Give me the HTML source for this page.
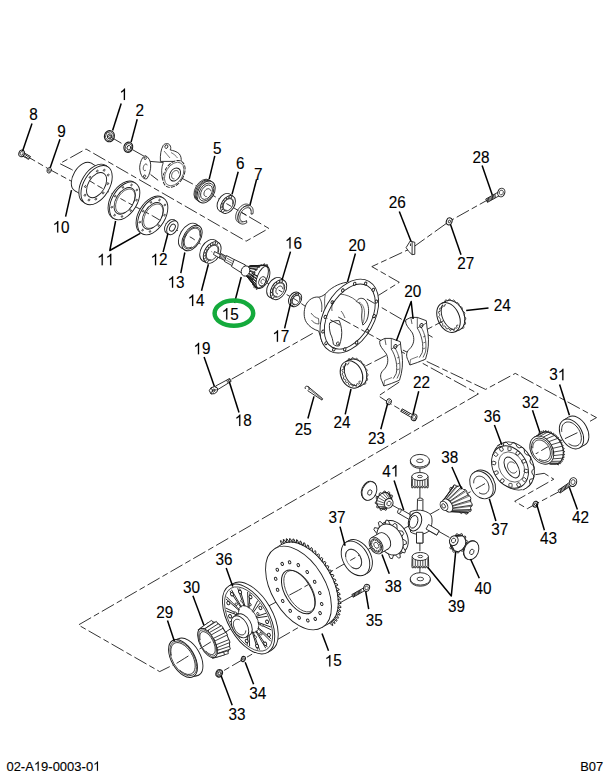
<!DOCTYPE html>
<html><head><meta charset="utf-8"><style>
html,body{margin:0;padding:0;background:#fff;}
svg{display:block;}
text{font-family:"Liberation Sans",sans-serif;fill:#000;}
</style></head><body>
<svg width="610" height="777" viewBox="0 0 610 777" stroke-linecap="butt" stroke-linejoin="round">
<rect width="610" height="777" fill="#fff"/>
<polyline points="23,154 48.2,168.7 84,188" fill="none" stroke="#1c1c1c" stroke-width="0.9" stroke-dasharray="14 3.2 6 3.2"/>
<polyline points="109.4,136.2 128.3,147.3 145.5,157" fill="none" stroke="#1c1c1c" stroke-width="0.9" stroke-dasharray="14 3.2 6 3.2"/>
<polyline points="150.7,174 157.5,179.2" fill="none" stroke="#1c1c1c" stroke-width="0.9" stroke-dasharray="14 3.2 6 3.2"/>
<polyline points="180.5,177.5 205,190.5 226.3,203.5 244.4,214.1 268.8,228.4 246.1,241.2 86,149 59.8,163.6 71.6,169.5 82,176" fill="none" stroke="#1c1c1c" stroke-width="0.9" stroke-dasharray="14 3.2 6 3.2"/>
<polyline points="96.6,185.1 124.7,200.9 152.7,215.9 172.4,227.7 192,238 212.2,252.1" fill="none" stroke="#1c1c1c" stroke-width="0.9" stroke-dasharray="14 3.2 6 3.2"/>
<polyline points="264,281 276.7,288.9 295.2,299.4 306.9,307.4" fill="none" stroke="#1c1c1c" stroke-width="0.9" stroke-dasharray="14 3.2 6 3.2"/>
<polyline points="231.6,379.2 314.2,332.5" fill="none" stroke="#1c1c1c" stroke-width="0.9" stroke-dasharray="14 3.2 6 3.2"/>
<polyline points="366.9,299 434.3,338.3" fill="none" stroke="#1c1c1c" stroke-width="0.9" stroke-dasharray="14 3.2 6 3.2"/>
<polyline points="338.2,317 478.4,393.9 78.4,625 159.7,671.6 175.4,663.8" fill="none" stroke="#1c1c1c" stroke-width="0.9" stroke-dasharray="14 3.2 6 3.2"/>
<polyline points="402.9,350.1 485.6,389.4 515.3,373.4 596.5,417.6 587.9,422.5" fill="none" stroke="#1c1c1c" stroke-width="0.9" stroke-dasharray="14 3.2 6 3.2"/>
<polyline points="447.5,318.6 425.2,330.4" fill="none" stroke="#1c1c1c" stroke-width="0.9" stroke-dasharray="14 3.2 6 3.2"/>
<polyline points="351,373.5 386,355.5" fill="none" stroke="#1c1c1c" stroke-width="0.9" stroke-dasharray="14 3.2 6 3.2"/>
<polyline points="492,197.5 449.2,221.4 412.5,247.7 371.8,266.6 399.3,282.3 378.4,295.4" fill="none" stroke="#1c1c1c" stroke-width="0.9" stroke-dasharray="14 3.2 6 3.2"/>
<polyline points="399.2,382.1 378.5,395.9 388.9,402.8 401.5,410.1" fill="none" stroke="#1c1c1c" stroke-width="0.9" stroke-dasharray="14 3.2 6 3.2"/>
<polyline points="578,432.4 547.3,447.1 513,467.2 481.5,485.6 453.1,501.5 419.9,519.9 383.4,539.8 355.4,557.5 298.4,590.3 248.5,616.6 213.8,640.1 184.3,658.5" fill="none" stroke="#1c1c1c" stroke-width="0.9" stroke-dasharray="14 3.2 6 3.2"/>
<polyline points="419.9,458 419.9,582" fill="none" stroke="#1c1c1c" stroke-width="0.9" stroke-dasharray="14 3.2 6 3.2"/>
<polyline points="368.3,491.6 472,550.2" fill="none" stroke="#1c1c1c" stroke-width="0.9" stroke-dasharray="14 3.2 6 3.2"/>
<polyline points="535.4,474.7 544.2,473.3 553.8,479.2 514.7,501.3 527.3,508.7 535.4,504.2 559,491.7" fill="none" stroke="#1c1c1c" stroke-width="0.9" stroke-dasharray="14 3.2 6 3.2"/>
<polyline points="352.5,595.9 336,605" fill="none" stroke="#1c1c1c" stroke-width="0.9" stroke-dasharray="14 3.2 6 3.2"/>
<polyline points="312.8,619.2 244.6,658.5 219.2,673.3" fill="none" stroke="#1c1c1c" stroke-width="0.9" stroke-dasharray="14 3.2 6 3.2"/>
<polygon points="20.8,154.9 28.7,159.4 30.3,156.4 22.4,151.9" fill="#fff" stroke="#1c1c1c" stroke-width="0.9"/>
<line x1="22.8" y1="156.1" x2="25.9" y2="153.9" stroke="#1c1c1c" stroke-width="0.95"/>
<line x1="24.4" y1="157" x2="27.5" y2="154.8" stroke="#1c1c1c" stroke-width="0.95"/>
<line x1="26" y1="157.9" x2="29.1" y2="155.7" stroke="#1c1c1c" stroke-width="0.95"/>
<line x1="27.6" y1="158.8" x2="30.6" y2="156.6" stroke="#1c1c1c" stroke-width="0.95"/>
<ellipse cx="21.6" cy="153.4" rx="2.7" ry="3.4" fill="#fff" stroke="#1c1c1c" stroke-width="1.0" transform="rotate(20 21.6 153.4)"/>
<ellipse cx="21.6" cy="153.4" rx="1.5" ry="1.9" fill="none" stroke="#1c1c1c" stroke-width="0.7" transform="rotate(20 21.6 153.4)"/>
<ellipse cx="49.2" cy="170.3" rx="2.1" ry="2.8" fill="#fff" stroke="#1c1c1c" stroke-width="0.9" transform="rotate(20 49.2 170.3)"/>
<ellipse cx="49.2" cy="170.3" rx="0.9" ry="1.2" fill="none" stroke="#1c1c1c" stroke-width="0.7" transform="rotate(20 49.2 170.3)"/>
<ellipse cx="82.9" cy="176.9" rx="9.6" ry="16" fill="#fff" stroke="#1c1c1c" stroke-width="0.9" transform="rotate(31 82.9 176.9)"/>
<polygon points="91.1,163.1 104.8,171.4 88.4,198.8 74.6,190.6" fill="#fff" stroke="none"/>
<line x1="91.1" y1="163.1" x2="104.8" y2="171.4" stroke="#1c1c1c" stroke-width="0.9"/>
<line x1="74.6" y1="190.6" x2="88.4" y2="198.8" stroke="#1c1c1c" stroke-width="0.9"/>
<ellipse cx="96.6" cy="185.1" rx="9.6" ry="16" fill="#fff" stroke="#1c1c1c" stroke-width="0.9" transform="rotate(31 96.6 185.1)"/>
<ellipse cx="94.5" cy="183.8" rx="12.9" ry="21.5" fill="#fff" stroke="#1c1c1c" stroke-width="0.9" transform="rotate(31 94.5 183.8)"/>
<polygon points="105.5,165.4 107.7,166.7 85.5,203.5 83.4,202.2" fill="#fff" stroke="none"/>
<line x1="105.5" y1="165.4" x2="107.7" y2="166.7" stroke="#1c1c1c" stroke-width="0.9"/>
<line x1="83.4" y1="202.2" x2="85.5" y2="203.5" stroke="#1c1c1c" stroke-width="0.9"/>
<ellipse cx="96.6" cy="185.1" rx="12.9" ry="21.5" fill="#fff" stroke="#1c1c1c" stroke-width="0.9" transform="rotate(31 96.6 185.1)"/>
<ellipse cx="96.6" cy="185.1" rx="8.3" ry="13.8" fill="none" stroke="#1c1c1c" stroke-width="0.9" transform="rotate(31 96.6 185.1)"/>
<ellipse cx="103.1" cy="192.9" rx="0.8" ry="1" fill="#fff" stroke="#1c1c1c" stroke-width="0.8" transform="rotate(31 103.1 192.9)"/>
<ellipse cx="95.9" cy="199.1" rx="0.8" ry="1" fill="#fff" stroke="#1c1c1c" stroke-width="0.8" transform="rotate(31 95.9 199.1)"/>
<ellipse cx="89" cy="200" rx="0.8" ry="1" fill="#fff" stroke="#1c1c1c" stroke-width="0.8" transform="rotate(31 89 200)"/>
<ellipse cx="85" cy="195.2" rx="0.8" ry="1" fill="#fff" stroke="#1c1c1c" stroke-width="0.8" transform="rotate(31 85 195.2)"/>
<ellipse cx="85.4" cy="186.5" rx="0.8" ry="1" fill="#fff" stroke="#1c1c1c" stroke-width="0.8" transform="rotate(31 85.4 186.5)"/>
<ellipse cx="90.1" cy="177.3" rx="0.8" ry="1" fill="#fff" stroke="#1c1c1c" stroke-width="0.8" transform="rotate(31 90.1 177.3)"/>
<ellipse cx="97.3" cy="171.1" rx="0.8" ry="1" fill="#fff" stroke="#1c1c1c" stroke-width="0.8" transform="rotate(31 97.3 171.1)"/>
<ellipse cx="104.2" cy="170.2" rx="0.8" ry="1" fill="#fff" stroke="#1c1c1c" stroke-width="0.8" transform="rotate(31 104.2 170.2)"/>
<ellipse cx="108.2" cy="175" rx="0.8" ry="1" fill="#fff" stroke="#1c1c1c" stroke-width="0.8" transform="rotate(31 108.2 175)"/>
<ellipse cx="107.8" cy="183.7" rx="0.8" ry="1" fill="#fff" stroke="#1c1c1c" stroke-width="0.8" transform="rotate(31 107.8 183.7)"/>
<ellipse cx="123.2" cy="200" rx="12.5" ry="20.8" fill="#fff" stroke="#1c1c1c" stroke-width="0.9" transform="rotate(31 123.2 200)"/>
<polygon points="133.9,182.1 135.4,183.1 114,218.7 112.4,217.8" fill="#fff" stroke="none"/>
<line x1="133.9" y1="182.1" x2="135.4" y2="183.1" stroke="#1c1c1c" stroke-width="0.9"/>
<line x1="112.4" y1="217.8" x2="114" y2="218.7" stroke="#1c1c1c" stroke-width="0.9"/>
<ellipse cx="124.7" cy="200.9" rx="12.5" ry="20.8" fill="#fff" stroke="#1c1c1c" stroke-width="0.9" transform="rotate(31 124.7 200.9)"/>
<ellipse cx="124.7" cy="200.9" rx="8.8" ry="14.6" fill="none" stroke="#1c1c1c" stroke-width="0.9" transform="rotate(31 124.7 200.9)"/>
<ellipse cx="130.7" cy="210.6" rx="0.7" ry="0.9" fill="#fff" stroke="#1c1c1c" stroke-width="0.8" transform="rotate(31 130.7 210.6)"/>
<ellipse cx="122" cy="216.5" rx="0.7" ry="0.9" fill="#fff" stroke="#1c1c1c" stroke-width="0.8" transform="rotate(31 122 216.5)"/>
<ellipse cx="114.6" cy="215.2" rx="0.7" ry="0.9" fill="#fff" stroke="#1c1c1c" stroke-width="0.8" transform="rotate(31 114.6 215.2)"/>
<ellipse cx="111.9" cy="207.2" rx="0.7" ry="0.9" fill="#fff" stroke="#1c1c1c" stroke-width="0.8" transform="rotate(31 111.9 207.2)"/>
<ellipse cx="115.2" cy="196.2" rx="0.7" ry="0.9" fill="#fff" stroke="#1c1c1c" stroke-width="0.8" transform="rotate(31 115.2 196.2)"/>
<ellipse cx="123" cy="187.4" rx="0.7" ry="0.9" fill="#fff" stroke="#1c1c1c" stroke-width="0.8" transform="rotate(31 123 187.4)"/>
<ellipse cx="131.5" cy="185" rx="0.7" ry="0.9" fill="#fff" stroke="#1c1c1c" stroke-width="0.8" transform="rotate(31 131.5 185)"/>
<ellipse cx="136.9" cy="190" rx="0.7" ry="0.9" fill="#fff" stroke="#1c1c1c" stroke-width="0.8" transform="rotate(31 136.9 190)"/>
<ellipse cx="136.6" cy="200.1" rx="0.7" ry="0.9" fill="#fff" stroke="#1c1c1c" stroke-width="0.8" transform="rotate(31 136.6 200.1)"/>
<polyline points="125.2,212.2 123.9,212.8 122.6,213.2 121.4,213.3 120.3,213.3 119.2,213 118.3,212.5 117.5,211.8 116.8,211 116.3,210 115.9,208.8 115.7,207.5 115.6,206 115.7,204.5 116,203 116.5,201.4 117.1,199.8 117.8,198.2 118.7,196.7 119.7,195.2 120.8,193.9 122,192.7 123.2,191.6 124.4,190.7 125.7,190 127,189.5 128.2,189.2 129.4,189.1 130.5,189.2 131.6,189.5 132.5,190 133.3,190.7 133.9,191.6 134.4,192.7 134.8,193.9 135,195.2 135,196.7 134.8,198.2 134.5,199.8 134,201.4 133.4,203" fill="none" stroke="#1c1c1c" stroke-width="0.7"/>
<ellipse cx="151.2" cy="215" rx="12.5" ry="20.8" fill="#fff" stroke="#1c1c1c" stroke-width="0.9" transform="rotate(31 151.2 215)"/>
<polygon points="161.9,197.1 163.4,198.1 142,233.7 140.4,232.8" fill="#fff" stroke="none"/>
<line x1="161.9" y1="197.1" x2="163.4" y2="198.1" stroke="#1c1c1c" stroke-width="0.9"/>
<line x1="140.4" y1="232.8" x2="142" y2="233.7" stroke="#1c1c1c" stroke-width="0.9"/>
<ellipse cx="152.7" cy="215.9" rx="12.5" ry="20.8" fill="#fff" stroke="#1c1c1c" stroke-width="0.9" transform="rotate(31 152.7 215.9)"/>
<ellipse cx="152.7" cy="215.9" rx="8.8" ry="14.6" fill="none" stroke="#1c1c1c" stroke-width="0.9" transform="rotate(31 152.7 215.9)"/>
<ellipse cx="158.7" cy="225.6" rx="0.7" ry="0.9" fill="#fff" stroke="#1c1c1c" stroke-width="0.8" transform="rotate(31 158.7 225.6)"/>
<ellipse cx="150" cy="231.5" rx="0.7" ry="0.9" fill="#fff" stroke="#1c1c1c" stroke-width="0.8" transform="rotate(31 150 231.5)"/>
<ellipse cx="142.6" cy="230.2" rx="0.7" ry="0.9" fill="#fff" stroke="#1c1c1c" stroke-width="0.8" transform="rotate(31 142.6 230.2)"/>
<ellipse cx="139.9" cy="222.2" rx="0.7" ry="0.9" fill="#fff" stroke="#1c1c1c" stroke-width="0.8" transform="rotate(31 139.9 222.2)"/>
<ellipse cx="143.2" cy="211.2" rx="0.7" ry="0.9" fill="#fff" stroke="#1c1c1c" stroke-width="0.8" transform="rotate(31 143.2 211.2)"/>
<ellipse cx="151" cy="202.4" rx="0.7" ry="0.9" fill="#fff" stroke="#1c1c1c" stroke-width="0.8" transform="rotate(31 151 202.4)"/>
<ellipse cx="159.5" cy="200" rx="0.7" ry="0.9" fill="#fff" stroke="#1c1c1c" stroke-width="0.8" transform="rotate(31 159.5 200)"/>
<ellipse cx="164.9" cy="205" rx="0.7" ry="0.9" fill="#fff" stroke="#1c1c1c" stroke-width="0.8" transform="rotate(31 164.9 205)"/>
<ellipse cx="164.6" cy="215.1" rx="0.7" ry="0.9" fill="#fff" stroke="#1c1c1c" stroke-width="0.8" transform="rotate(31 164.6 215.1)"/>
<polyline points="153.2,227.2 151.9,227.8 150.6,228.2 149.4,228.3 148.3,228.3 147.2,228 146.3,227.5 145.5,226.8 144.8,226 144.3,225 143.9,223.8 143.7,222.5 143.6,221 143.7,219.5 144,218 144.5,216.4 145.1,214.8 145.8,213.2 146.7,211.7 147.7,210.2 148.8,208.9 150,207.7 151.2,206.6 152.4,205.7 153.7,205 155,204.5 156.2,204.2 157.4,204.1 158.5,204.2 159.6,204.5 160.5,205 161.3,205.7 161.9,206.6 162.4,207.7 162.8,208.9 163,210.2 163,211.7 162.8,213.2 162.5,214.8 162,216.4 161.4,218" fill="none" stroke="#1c1c1c" stroke-width="0.7"/>
<ellipse cx="170.3" cy="226.4" rx="4.9" ry="7.6" fill="#fff" stroke="#1c1c1c" stroke-width="0.9" transform="rotate(31 170.3 226.4)"/>
<polygon points="174.2,219.9 176.3,221.2 168.5,234.2 166.3,232.9" fill="#fff" stroke="none"/>
<line x1="174.2" y1="219.9" x2="176.3" y2="221.2" stroke="#1c1c1c" stroke-width="0.9"/>
<line x1="166.3" y1="232.9" x2="168.5" y2="234.2" stroke="#1c1c1c" stroke-width="0.9"/>
<ellipse cx="172.4" cy="227.7" rx="4.9" ry="7.6" fill="#fff" stroke="#1c1c1c" stroke-width="0.9" transform="rotate(31 172.4 227.7)"/>
<ellipse cx="172.4" cy="227.7" rx="2.5" ry="3.8" fill="none" stroke="#1c1c1c" stroke-width="0.9" transform="rotate(31 172.4 227.7)"/>
<ellipse cx="188.6" cy="235.9" rx="8.4" ry="14" fill="#fff" stroke="#1c1c1c" stroke-width="0.9" transform="rotate(31 188.6 235.9)"/>
<polygon points="195.8,223.9 199.2,226 184.8,250 181.4,247.9" fill="#fff" stroke="none"/>
<line x1="195.8" y1="223.9" x2="199.2" y2="226" stroke="#1c1c1c" stroke-width="0.9"/>
<line x1="181.4" y1="247.9" x2="184.8" y2="250" stroke="#1c1c1c" stroke-width="0.9"/>
<ellipse cx="192" cy="238" rx="8.4" ry="14" fill="#fff" stroke="#1c1c1c" stroke-width="0.9" transform="rotate(31 192 238)"/>
<ellipse cx="192" cy="238" rx="7.3" ry="12.2" fill="none" stroke="#1c1c1c" stroke-width="0.8" transform="rotate(31 192 238)"/>
<polyline points="191.9,247 190.9,247.4 190,247.7 189.1,247.8 188.2,247.8 187.4,247.7 186.7,247.4 186,246.9 185.4,246.4 184.9,245.7 184.6,244.9 184.3,244 184.2,243 184.1,241.9 184.2,240.8 184.4,239.6 184.8,238.4 185.2,237.2 185.7,236 186.3,234.9 187,233.8 187.8,232.7 188.6,231.7 189.5,230.9 190.5,230.1 191.4,229.4 192.4,228.9 193.3,228.5 194.3,228.3 195.2,228.2 196,228.2 196.8,228.4 197.5,228.7 198.2,229.2 198.7,229.8 199.2,230.5 199.5,231.3 199.7,232.3 199.8,233.3 199.8,234.4 199.7,235.5" fill="none" stroke="#1c1c1c" stroke-width="0.9"/>
<ellipse cx="208.8" cy="250.5" rx="7.7" ry="12.1" fill="#fff" stroke="#1c1c1c" stroke-width="0.9" transform="rotate(31 208.8 250.5)"/>
<polygon points="215,240.1 218.3,242.4 206.1,262.6 202.6,260.9" fill="#fff" stroke="none"/>
<line x1="215" y1="240.1" x2="218.3" y2="242.4" stroke="#1c1c1c" stroke-width="0.9"/>
<line x1="202.6" y1="260.9" x2="206.1" y2="262.6" stroke="#1c1c1c" stroke-width="0.9"/>
<ellipse cx="212.2" cy="252.5" rx="7.6" ry="11.8" fill="#fff" stroke="#1c1c1c" stroke-width="0.9" transform="rotate(31 212.2 252.5)"/>
<line x1="207.4" y1="262.8" x2="208.5" y2="260.3" stroke="#1c1c1c" stroke-width="0.9"/>
<line x1="205.3" y1="261.5" x2="206.9" y2="259.4" stroke="#1c1c1c" stroke-width="0.9"/>
<line x1="204" y1="259.3" x2="205.9" y2="257.7" stroke="#1c1c1c" stroke-width="0.9"/>
<line x1="203.6" y1="256.3" x2="205.6" y2="255.4" stroke="#1c1c1c" stroke-width="0.9"/>
<line x1="204.1" y1="252.9" x2="206" y2="252.8" stroke="#1c1c1c" stroke-width="0.9"/>
<line x1="205.5" y1="249.5" x2="207.1" y2="250.2" stroke="#1c1c1c" stroke-width="0.9"/>
<line x1="207.6" y1="246.4" x2="208.7" y2="247.8" stroke="#1c1c1c" stroke-width="0.9"/>
<line x1="210.2" y1="244" x2="210.7" y2="246" stroke="#1c1c1c" stroke-width="0.9"/>
<line x1="213" y1="242.4" x2="212.8" y2="244.8" stroke="#1c1c1c" stroke-width="0.9"/>
<line x1="215.7" y1="242" x2="214.9" y2="244.5" stroke="#1c1c1c" stroke-width="0.9"/>
<line x1="218.1" y1="242.7" x2="216.7" y2="245" stroke="#1c1c1c" stroke-width="0.9"/>
<ellipse cx="212.2" cy="252.5" rx="5.6" ry="8.7" fill="none" stroke="#1c1c1c" stroke-width="0.7" transform="rotate(31 212.2 252.5)"/>
<polyline points="210.6,259.6 209.9,259.7 209.3,259.6 208.7,259.4 208.2,259.2 207.7,258.8 207.3,258.4 206.9,257.8 206.6,257.2 206.5,256.5 206.4,255.8 206.3,255 206.4,254.2 206.5,253.4 206.8,252.5 207.1,251.6 207.4,250.8 207.9,250 208.4,249.2 209,248.5 209.6,247.8 210.2,247.2 210.9,246.6 211.6,246.2 212.3,245.8 213,245.6 213.7,245.4 214.3,245.3 215,245.4 215.6,245.5 216.1,245.8 216.6,246.1 217,246.5 217.4,247 217.7,247.6 217.9,248.3 218,249 218.1,249.8 218,250.6 217.9,251.4 217.7,252.3" fill="none" stroke="#1c1c1c" stroke-width="0.95"/>
<polygon points="214.5,251.5 221,255 219.8,258.2 213.5,254.5" fill="#fff" stroke="#1c1c1c" stroke-width="0.9"/>
<polygon points="220.8,253.4 227,256.8 225.5,261 219.2,257.6" fill="#fff" stroke="#1c1c1c" stroke-width="0.9"/>
<line x1="221.6" y1="253.9" x2="220" y2="258" stroke="#1c1c1c" stroke-width="0.7"/>
<line x1="222.8" y1="254.6" x2="221.2" y2="258.6" stroke="#1c1c1c" stroke-width="0.7"/>
<line x1="224" y1="255.2" x2="222.4" y2="259.3" stroke="#1c1c1c" stroke-width="0.7"/>
<line x1="225.2" y1="255.8" x2="223.6" y2="259.9" stroke="#1c1c1c" stroke-width="0.7"/>
<line x1="226.4" y1="256.5" x2="224.8" y2="260.6" stroke="#1c1c1c" stroke-width="0.7"/>
<polygon points="226.5,255.5 235,260 232.8,266 224.5,261.5" fill="#fff" stroke="#1c1c1c" stroke-width="0.9"/>
<line x1="227" y1="258.2" x2="234" y2="262" stroke="#1c1c1c" stroke-width="0.6"/>
<line x1="226" y1="260" x2="233.3" y2="264" stroke="#1c1c1c" stroke-width="0.6"/>
<polygon points="234.3,259.5 245.5,265 242.5,273.5 231.5,266.5" fill="#fff" stroke="#1c1c1c" stroke-width="0.9"/>
<ellipse cx="261.5" cy="276.8" rx="7.6" ry="12.2" fill="#fff" stroke="#1c1c1c" stroke-width="0.9" transform="rotate(22 261.5 276.8)"/>
<polygon points="266.1,265.5 251.1,265.9 246.9,276.1 256.9,288.1" fill="#fff" stroke="none"/>
<line x1="266.1" y1="265.5" x2="251.1" y2="265.9" stroke="#1c1c1c" stroke-width="0.9"/>
<line x1="256.9" y1="288.1" x2="246.9" y2="276.1" stroke="#1c1c1c" stroke-width="0.9"/>
<line x1="251.8" y1="273.1" x2="267.7" y2="281.4" stroke="#1c1c1c" stroke-width="1.0"/>
<line x1="251.6" y1="273.4" x2="267.2" y2="282.2" stroke="#1c1c1c" stroke-width="0.8"/>
<line x1="250.8" y1="274.5" x2="265.5" y2="284.7" stroke="#1c1c1c" stroke-width="1.0"/>
<line x1="250.5" y1="274.8" x2="264.9" y2="285.3" stroke="#1c1c1c" stroke-width="0.8"/>
<line x1="249.6" y1="275.6" x2="262.8" y2="287.1" stroke="#1c1c1c" stroke-width="1.0"/>
<line x1="249.3" y1="275.8" x2="262.2" y2="287.5" stroke="#1c1c1c" stroke-width="0.8"/>
<line x1="248.3" y1="276.2" x2="260" y2="288.3" stroke="#1c1c1c" stroke-width="1.0"/>
<line x1="248" y1="276.2" x2="259.4" y2="288.4" stroke="#1c1c1c" stroke-width="0.8"/>
<line x1="247.1" y1="276.2" x2="257.4" y2="288.3" stroke="#1c1c1c" stroke-width="1.0"/>
<line x1="246.9" y1="276.1" x2="256.8" y2="288.1" stroke="#1c1c1c" stroke-width="0.8"/>
<line x1="246.2" y1="275.6" x2="255.2" y2="286.9" stroke="#1c1c1c" stroke-width="1.0"/>
<line x1="246" y1="275.3" x2="254.8" y2="286.4" stroke="#1c1c1c" stroke-width="0.8"/>
<line x1="245.5" y1="274.4" x2="253.7" y2="284.4" stroke="#1c1c1c" stroke-width="1.0"/>
<line x1="245.4" y1="274.1" x2="253.5" y2="283.7" stroke="#1c1c1c" stroke-width="0.8"/>
<line x1="245.2" y1="272.9" x2="253.1" y2="281" stroke="#1c1c1c" stroke-width="1.0"/>
<line x1="245.2" y1="272.5" x2="253.1" y2="280.1" stroke="#1c1c1c" stroke-width="0.8"/>
<line x1="245.4" y1="271.2" x2="253.5" y2="277.2" stroke="#1c1c1c" stroke-width="1.0"/>
<line x1="245.5" y1="270.8" x2="253.7" y2="276.2" stroke="#1c1c1c" stroke-width="0.8"/>
<line x1="246" y1="269.4" x2="254.8" y2="273.3" stroke="#1c1c1c" stroke-width="1.0"/>
<line x1="246.2" y1="269" x2="255.2" y2="272.4" stroke="#1c1c1c" stroke-width="0.8"/>
<line x1="246.9" y1="267.8" x2="256.8" y2="269.8" stroke="#1c1c1c" stroke-width="1.0"/>
<line x1="247.1" y1="267.5" x2="257.4" y2="269.1" stroke="#1c1c1c" stroke-width="0.8"/>
<line x1="248" y1="266.6" x2="259.4" y2="267.1" stroke="#1c1c1c" stroke-width="1.0"/>
<line x1="248.3" y1="266.4" x2="260" y2="266.6" stroke="#1c1c1c" stroke-width="0.8"/>
<line x1="249.3" y1="265.9" x2="262.2" y2="265.5" stroke="#1c1c1c" stroke-width="1.0"/>
<line x1="249.6" y1="265.8" x2="262.9" y2="265.3" stroke="#1c1c1c" stroke-width="0.8"/>
<line x1="250.5" y1="265.8" x2="264.9" y2="265.2" stroke="#1c1c1c" stroke-width="1.0"/>
<line x1="250.8" y1="265.8" x2="265.5" y2="265.3" stroke="#1c1c1c" stroke-width="0.8"/>
<polyline points="258.1,288.4 256.9,289.6 256.2,289.3 256.2,287.7 255.6,287.3 254.4,287.9 253.8,287.3 254.2,285.6 253.9,284.8 252.7,284.9 252.5,283.9 253.2,282.3 253.1,281.3 252.2,280.7 252.2,279.6 253.3,278.3 253.5,277.2 252.9,276.1 253.2,274.9 254.4,274.1 254.9,273.1 254.6,271.6 255.2,270.5 256.5,270.3 257.1,269.4 257.3,267.7 258.1,266.9 259.2,267.3 259.9,266.7 260.6,265 261.4,264.6 262.2,265.5 262.9,265.3 263.9,263.8 264.7,263.8 265.1,265.2 265.7,265.4 266.9,264.3 267.6,264.7 267.5,266.4 268,266.9" fill="none" stroke="#1c1c1c" stroke-width="0.8"/>
<ellipse cx="262.2" cy="277.2" rx="4.8" ry="11.5" fill="#fff" stroke="#1c1c1c" stroke-width="0.9" transform="rotate(22 262.2 277.2)"/>
<ellipse cx="245.5" cy="271" rx="4.2" ry="5.2" fill="#fff" stroke="#1c1c1c" stroke-width="0.9" transform="rotate(20 245.5 271)"/>
<ellipse cx="262.3" cy="281.3" rx="3.3" ry="4.8" fill="#fff" stroke="#1c1c1c" stroke-width="0.9" transform="rotate(22 262.3 281.3)"/>
<polyline points="262.5,283.5 262.3,283.5 262.1,283.5 262,283.5 261.8,283.5 261.7,283.4 261.5,283.3 261.4,283.2 261.3,283 261.2,282.9 261.1,282.7 261,282.5 261,282.3 261,282 261,281.8 261,281.6 261,281.3 261.1,281.1 261.2,280.9 261.3,280.6 261.4,280.4 261.5,280.2 261.6,280 261.8,279.9 262,279.7 262.1,279.6 262.3,279.5 262.5,279.4 262.7,279.3 262.9,279.3 263,279.3 263.2,279.3 263.4,279.3 263.5,279.4 263.7,279.5 263.8,279.6 263.9,279.8 264,279.9 264.1,280.1 264.2,280.3 264.2,280.5" fill="none" stroke="#1c1c1c" stroke-width="0.8"/>
<ellipse cx="275.1" cy="287.6" rx="7.3" ry="11" fill="#fff" stroke="#1c1c1c" stroke-width="0.9" transform="rotate(31 275.1 287.6)"/>
<polygon points="280.8,278.2 284.1,280.4 272.9,299 269.4,297" fill="#fff" stroke="none"/>
<line x1="280.8" y1="278.2" x2="284.1" y2="280.4" stroke="#1c1c1c" stroke-width="0.9"/>
<line x1="269.4" y1="297" x2="272.9" y2="299" stroke="#1c1c1c" stroke-width="0.9"/>
<ellipse cx="278.5" cy="289.7" rx="7.1" ry="10.8" fill="#fff" stroke="#1c1c1c" stroke-width="0.9" transform="rotate(31 278.5 289.7)"/>
<line x1="273.1" y1="298.7" x2="274.3" y2="296.7" stroke="#1c1c1c" stroke-width="0.9"/>
<line x1="271.1" y1="296.4" x2="272.8" y2="294.9" stroke="#1c1c1c" stroke-width="0.9"/>
<line x1="270.5" y1="292.9" x2="272.2" y2="292.2" stroke="#1c1c1c" stroke-width="0.9"/>
<line x1="271.3" y1="288.9" x2="272.9" y2="289.1" stroke="#1c1c1c" stroke-width="0.9"/>
<line x1="273.4" y1="285" x2="274.5" y2="286" stroke="#1c1c1c" stroke-width="0.9"/>
<line x1="276.4" y1="281.9" x2="276.8" y2="283.6" stroke="#1c1c1c" stroke-width="0.9"/>
<line x1="279.7" y1="280.2" x2="279.5" y2="282.3" stroke="#1c1c1c" stroke-width="0.9"/>
<line x1="282.9" y1="280.3" x2="281.9" y2="282.3" stroke="#1c1c1c" stroke-width="0.9"/>
<ellipse cx="278.5" cy="289.7" rx="5.4" ry="8.2" fill="none" stroke="#1c1c1c" stroke-width="0.7" transform="rotate(31 278.5 289.7)"/>
<polyline points="277,296.4 276.4,296.4 275.8,296.4 275.2,296.2 274.7,295.9 274.2,295.6 273.8,295.2 273.5,294.7 273.2,294.1 273.1,293.4 272.9,292.7 272.9,292 273,291.2 273.1,290.4 273.3,289.6 273.6,288.8 273.9,288 274.3,287.3 274.8,286.5 275.3,285.9 275.9,285.2 276.5,284.7 277.2,284.2 277.8,283.7 278.5,283.4 279.1,283.2 279.8,283 280.4,283 281.1,283 281.6,283.2 282.2,283.4 282.6,283.7 283.1,284.1 283.4,284.6 283.7,285.2 283.9,285.8 284,286.5 284.1,287.2 284.1,288 284,288.7 283.8,289.5" fill="none" stroke="#1c1c1c" stroke-width="0.95"/>
<polyline points="278,294 277.7,293.9 277.4,293.9 277.1,293.7 276.8,293.6 276.6,293.3 276.4,293.1 276.2,292.8 276.1,292.5 276,292.1 275.9,291.7 275.9,291.3 275.9,290.9 276,290.4 276.1,290 276.3,289.5 276.5,289.1 276.7,288.7 276.9,288.3 277.2,287.9 277.5,287.5 277.9,287.2 278.2,286.9 278.6,286.6 278.9,286.4 279.3,286.3 279.7,286.1 280,286.1 280.4,286 280.7,286.1 281,286.1 281.3,286.3 281.6,286.4 281.8,286.6 282,286.9 282.2,287.2 282.3,287.5 282.4,287.9 282.5,288.3 282.5,288.7 282.5,289.1" fill="none" stroke="#1c1c1c" stroke-width="0.9"/>
<ellipse cx="294.3" cy="298.9" rx="5.1" ry="7.5" fill="#fff" stroke="#1c1c1c" stroke-width="0.9" transform="rotate(31 294.3 298.9)"/>
<polygon points="298.2,292.5 299.8,293.6 292.2,306.2 290.4,305.3" fill="#fff" stroke="none"/>
<line x1="298.2" y1="292.5" x2="299.8" y2="293.6" stroke="#1c1c1c" stroke-width="0.9"/>
<line x1="290.4" y1="305.3" x2="292.2" y2="306.2" stroke="#1c1c1c" stroke-width="0.9"/>
<ellipse cx="296" cy="299.9" rx="5" ry="7.4" fill="#fff" stroke="#1c1c1c" stroke-width="0.9" transform="rotate(31 296 299.9)"/>
<line x1="292.3" y1="306.1" x2="293.2" y2="304.5" stroke="#1c1c1c" stroke-width="0.9"/>
<line x1="290.6" y1="303.6" x2="291.9" y2="302.7" stroke="#1c1c1c" stroke-width="0.9"/>
<line x1="290.7" y1="299.8" x2="292.1" y2="299.8" stroke="#1c1c1c" stroke-width="0.9"/>
<line x1="292.7" y1="296.1" x2="293.5" y2="297.1" stroke="#1c1c1c" stroke-width="0.9"/>
<line x1="295.8" y1="293.7" x2="295.9" y2="295.3" stroke="#1c1c1c" stroke-width="0.9"/>
<line x1="299" y1="293.4" x2="298.2" y2="295.1" stroke="#1c1c1c" stroke-width="0.9"/>
<ellipse cx="296" cy="299.9" rx="3.7" ry="5.4" fill="none" stroke="#1c1c1c" stroke-width="0.7" transform="rotate(31 296 299.9)"/>
<polyline points="295.1,304.3 294.6,304.3 294.2,304.3 293.9,304.2 293.5,304 293.2,303.8 292.9,303.5 292.7,303.1 292.5,302.8 292.4,302.3 292.3,301.9 292.3,301.4 292.3,300.9 292.4,300.3 292.5,299.8 292.7,299.3 292.9,298.8 293.2,298.3 293.5,297.8 293.8,297.3 294.2,296.9 294.6,296.5 295,296.2 295.5,295.9 295.9,295.7 296.4,295.6 296.8,295.5 297.2,295.5 297.7,295.5 298,295.6 298.4,295.7 298.7,296 299,296.2 299.3,296.6 299.4,296.9 299.6,297.4 299.7,297.8 299.7,298.3 299.7,298.8 299.7,299.3 299.5,299.8" fill="none" stroke="#1c1c1c" stroke-width="0.95"/>
<ellipse cx="109.4" cy="136.2" rx="5" ry="5.6" fill="#fff" stroke="#1c1c1c" stroke-width="1.1" transform="rotate(15 109.4 136.2)"/>
<polyline points="112.3,139.4 108.2,140.7 105.3,137.5 106.5,133 110.6,131.7 113.5,134.9 112.3,139.4" fill="none" stroke="#1c1c1c" stroke-width="0.8"/>
<ellipse cx="109.6" cy="136.4" rx="2.2" ry="2.6" fill="none" stroke="#1c1c1c" stroke-width="0.9" transform="rotate(15 109.6 136.4)"/>
<ellipse cx="109.8" cy="136.5" rx="1.1" ry="1.3" fill="none" stroke="#1c1c1c" stroke-width="0.8" transform="rotate(15 109.8 136.5)"/>
<ellipse cx="128.3" cy="147.3" rx="4.4" ry="5.2" fill="#fff" stroke="#1c1c1c" stroke-width="1.1" transform="rotate(15 128.3 147.3)"/>
<ellipse cx="128.5" cy="147.5" rx="3.2" ry="3.9" fill="none" stroke="#1c1c1c" stroke-width="0.8" transform="rotate(15 128.5 147.5)"/>
<ellipse cx="128.8" cy="147.7" rx="1.8" ry="2.2" fill="none" stroke="#1c1c1c" stroke-width="0.9" transform="rotate(15 128.8 147.7)"/>
<path d="M160.4,161.4 C160,155 161,149 163.3,145.3 C164.5,143.5 168,142.8 169.6,144.8 C171,146.5 171,148.5 170.2,149.9 C173,150.5 177,151.5 179.3,153.9 C181,156 181.5,159 181.1,161.4 Z" fill="#fff" stroke="#1c1c1c" stroke-width="0.9"/>
<ellipse cx="166.4" cy="146.6" rx="1.5" ry="1.8" fill="none" stroke="#1c1c1c" stroke-width="0.8" transform="rotate(20 166.4 146.6)"/>
<path d="M164,151 C166,153 168,156 170,158 M171,152.5 C174,154 176,156 177.5,158" fill="none" stroke="#1c1c1c" stroke-width="0.6"/>
<ellipse cx="174" cy="173.9" rx="9.6" ry="14.6" fill="#fff" stroke="#1c1c1c" stroke-width="0.9" transform="rotate(31 174 173.9)" stroke-dasharray="4 1.2"/>
<ellipse cx="174.2" cy="174" rx="8.4" ry="12.8" fill="none" stroke="#1c1c1c" stroke-width="0.6" transform="rotate(31 174.2 174)"/>
<ellipse cx="175" cy="174.5" rx="5" ry="7" fill="none" stroke="#1c1c1c" stroke-width="0.9" transform="rotate(31 175 174.5)"/>
<polyline points="174.4,178.9 174,178.9 173.6,178.8 173.3,178.7 172.9,178.6 172.6,178.4 172.4,178.1 172.1,177.9 171.9,177.5 171.8,177.2 171.7,176.8 171.6,176.3 171.6,175.9 171.6,175.4 171.7,175 171.8,174.5 171.9,174 172.1,173.6 172.4,173.1 172.6,172.7 172.9,172.3 173.3,171.9 173.6,171.6 174,171.3 174.4,171 174.8,170.8 175.2,170.7 175.6,170.6 176,170.5 176.4,170.5 176.8,170.5 177.1,170.6 177.4,170.8 177.7,171 178,171.2 178.3,171.5 178.5,171.9 178.6,172.2 178.7,172.6 178.8,173 178.8,173.5" fill="none" stroke="#1c1c1c" stroke-width="0.8"/>
<polyline points="150.1,161.4 163.3,162.5 165,171 158.1,180.3 150.7,174.6" fill="#fff" stroke="none"/>
<line x1="150.1" y1="161.4" x2="163.3" y2="162.5" stroke="#1c1c1c" stroke-width="0.9"/>
<line x1="150.7" y1="174.6" x2="158.1" y2="180.3" stroke="#1c1c1c" stroke-width="0.9"/>
<path d="M163.3,162.5 C161.5,167 161,173 162.5,179.5" fill="none" stroke="#1c1c1c" stroke-width="0.8"/>
<path d="M145.5,155.7 C148.5,157 150.7,161 150.7,164.8 C151,169 149.5,175 147,178.6 C145,179.5 143,178.5 141.5,175.5 C139.8,172 139.5,168 139.8,166 C140.5,161 142.5,156.5 145.5,155.7 Z" fill="#fff" stroke="#1c1c1c" stroke-width="0.9"/>
<ellipse cx="145.2" cy="158.2" rx="1.1" ry="1.3" fill="none" stroke="#1c1c1c" stroke-width="0.8" transform="rotate(20 145.2 158.2)"/>
<ellipse cx="144.6" cy="176.2" rx="1.1" ry="1.3" fill="none" stroke="#1c1c1c" stroke-width="0.8" transform="rotate(20 144.6 176.2)"/>
<polyline points="145.9,170 145.7,170.2 145.5,170.4 145.2,170.5 145,170.6 144.8,170.6 144.5,170.6 144.3,170.6 144.1,170.5 144,170.3 143.8,170.1 143.6,169.9 143.5,169.7 143.4,169.4 143.4,169.1 143.3,168.7 143.3,168.4 143.3,168 143.3,167.6 143.4,167.2 143.5,166.8 143.6,166.4 143.7,166.1 143.9,165.7 144.1,165.4 144.3,165.1 144.5,164.8 144.7,164.6 144.9,164.4 145.2,164.2 145.4,164.1 145.6,164 145.9,164 146.1,164 146.3,164.1 146.5,164.2 146.7,164.3 146.8,164.5 147,164.7 147.1,165 147.2,165.3" fill="none" stroke="#1c1c1c" stroke-width="0.8"/>
<ellipse cx="203.1" cy="190.2" rx="7.9" ry="11.9" fill="#fff" stroke="#1c1c1c" stroke-width="0.8" transform="rotate(31 203.1 190.2)"/>
<ellipse cx="204.1" cy="190.8" rx="7.9" ry="11.9" fill="#fff" stroke="#1c1c1c" stroke-width="0.8" transform="rotate(31 204.1 190.8)"/>
<ellipse cx="205.1" cy="191.4" rx="7.9" ry="11.9" fill="#fff" stroke="#1c1c1c" stroke-width="0.8" transform="rotate(31 205.1 191.4)"/>
<ellipse cx="206.1" cy="192" rx="7.9" ry="11.9" fill="#fff" stroke="#1c1c1c" stroke-width="0.9" transform="rotate(31 206.1 192)"/>
<ellipse cx="206.3" cy="192.1" rx="6.5" ry="9.8" fill="none" stroke="#1c1c1c" stroke-width="0.8" transform="rotate(31 206.3 192.1)"/>
<ellipse cx="206.5" cy="192.2" rx="5.1" ry="7.8" fill="none" stroke="#1c1c1c" stroke-width="0.8" transform="rotate(31 206.5 192.2)"/>
<polyline points="206.8,196.4 206.5,196.5 206.1,196.5 205.8,196.5 205.5,196.4 205.2,196.2 204.9,196 204.7,195.8 204.4,195.5 204.3,195.2 204.1,194.9 204,194.5 204,194.1 204,193.7 204,193.3 204.1,192.8 204.2,192.4 204.3,192 204.5,191.5 204.8,191.1 205,190.7 205.3,190.4 205.6,190 205.9,189.7 206.3,189.4 206.6,189.2 207,189 207.4,188.9 207.7,188.8 208.1,188.7 208.5,188.7 208.8,188.7 209.1,188.8 209.4,189 209.7,189.2 209.9,189.4 210.2,189.7 210.3,190 210.5,190.3 210.6,190.7 210.6,191.1" fill="none" stroke="#1c1c1c" stroke-width="0.9"/>
<ellipse cx="224.6" cy="202.5" rx="6.5" ry="9.9" fill="#fff" stroke="#1c1c1c" stroke-width="0.9" transform="rotate(31 224.6 202.5)"/>
<polygon points="229.7,194 233,196.2 223,212.8 219.5,211" fill="#fff" stroke="none"/>
<line x1="229.7" y1="194" x2="233" y2="196.2" stroke="#1c1c1c" stroke-width="0.9"/>
<line x1="219.5" y1="211" x2="223" y2="212.8" stroke="#1c1c1c" stroke-width="0.9"/>
<ellipse cx="228" cy="204.5" rx="6.4" ry="9.7" fill="#fff" stroke="#1c1c1c" stroke-width="0.9" transform="rotate(31 228 204.5)"/>
<line x1="223.2" y1="212.6" x2="224.4" y2="210.5" stroke="#1c1c1c" stroke-width="0.9"/>
<line x1="221.4" y1="210.5" x2="223" y2="209" stroke="#1c1c1c" stroke-width="0.9"/>
<line x1="220.8" y1="207.4" x2="222.6" y2="206.7" stroke="#1c1c1c" stroke-width="0.9"/>
<line x1="221.5" y1="203.8" x2="223.1" y2="203.9" stroke="#1c1c1c" stroke-width="0.9"/>
<line x1="223.4" y1="200.2" x2="224.5" y2="201.3" stroke="#1c1c1c" stroke-width="0.9"/>
<line x1="226.1" y1="197.5" x2="226.6" y2="199.3" stroke="#1c1c1c" stroke-width="0.9"/>
<line x1="229.1" y1="196" x2="228.8" y2="198.1" stroke="#1c1c1c" stroke-width="0.9"/>
<line x1="232" y1="196" x2="231" y2="198.2" stroke="#1c1c1c" stroke-width="0.9"/>
<ellipse cx="228" cy="204.5" rx="4.7" ry="7.1" fill="none" stroke="#1c1c1c" stroke-width="0.7" transform="rotate(31 228 204.5)"/>
<polyline points="226.7,210.3 226.2,210.3 225.7,210.2 225.2,210.1 224.7,209.9 224.3,209.6 224,209.2 223.7,208.8 223.5,208.3 223.3,207.7 223.2,207.1 223.2,206.5 223.2,205.8 223.3,205.1 223.5,204.4 223.7,203.7 224,203.1 224.4,202.4 224.8,201.8 225.3,201.2 225.8,200.6 226.3,200.1 226.8,199.7 227.4,199.4 228,199.1 228.6,198.9 229.1,198.7 229.7,198.7 230.2,198.7 230.7,198.8 231.2,199 231.6,199.3 231.9,199.7 232.2,200.1 232.5,200.6 232.7,201.1 232.8,201.7 232.8,202.3 232.8,203 232.7,203.7 232.5,204.4" fill="none" stroke="#1c1c1c" stroke-width="0.95"/>
<polyline points="238.1,222.2 237.7,221.9 237.3,221.5 236.9,221.1 236.6,220.7 236.4,220.2 236.1,219.7 236,219.1 235.8,218.5 235.7,217.9 235.7,217.2 235.7,216.5 235.7,215.8 235.8,215.1 236,214.4 236.2,213.7 236.4,212.9 236.7,212.2 237,211.5 237.4,210.7 237.8,210.1 238.2,209.4 238.7,208.7 239.1,208.1 239.7,207.5 240.2,207 240.8,206.4 241.3,206 241.9,205.6 242.5,205.2 243.1,204.9 243.7,204.6 244.3,204.4 244.9,204.2 245.5,204.1 246.1,204 246.6,204.1 247.2,204.1 247.7,204.3 248.2,204.4 248.6,204.7" fill="none" stroke="#1c1c1c" stroke-width="0.9"/>
<line x1="248.6" y1="204.7" x2="250.8" y2="206" stroke="#1c1c1c" stroke-width="0.9"/>
<line x1="238.1" y1="222.2" x2="240.2" y2="223.4" stroke="#1c1c1c" stroke-width="0.9"/>
<polygon points="246.8,222.7 245.8,223.2 244.8,223.7 243.8,223.9 242.9,224.1 241.9,224 241.1,223.8 240.3,223.5 239.6,223 239,222.4 238.6,221.6 238.2,220.7 238,219.8 237.8,218.7 237.8,217.6 238,216.4 238.3,215.2 238.6,214 239.1,212.8 239.8,211.6 240.5,210.5 241.2,209.4 242.1,208.5 243,207.6 244,206.9 245,206.3 246,205.8 247,205.5 247.9,205.4 248.8,205.4 249.7,205.5 250.5,205.8 251.2,206.3 251.8,206.9 252.3,207.6 252.7,208.4 253,209.4 253.1,210.4 253.2,211.6 253.1,212.7 252.8,213.9 251,214.1 251.1,213.2 251.2,212.4 251.2,211.5 251.1,210.8 250.9,210 250.6,209.4 250.2,208.9 249.8,208.4 249.2,208.1 248.6,207.8 248,207.7 247.3,207.7 246.6,207.9 245.8,208.1 245.1,208.4 244.4,208.9 243.7,209.4 243,210.1 242.3,210.8 241.7,211.6 241.2,212.4 240.8,213.3 240.4,214.2 240.1,215.1 239.9,216 239.8,216.8 239.8,217.7 239.9,218.5 240.1,219.2 240.3,219.8 240.7,220.4 241.1,220.9 241.6,221.2 242.2,221.5 242.9,221.6 243.5,221.7 244.2,221.6 245,221.4 245.7,221.1 246.5,220.6" fill="#fff" stroke="#1c1c1c" stroke-width="0.9"/>
<polyline points="243.1,221.9 242.4,222.1 241.7,222.1 241.1,222 240.4,221.9 239.9,221.6 239.4,221.2 238.9,220.8 238.5,220.2 238.2,219.6 238,219 237.8,218.2 237.8,217.4 237.8,216.6 237.9,215.7 238,214.8 238.3,213.9 238.6,213.1 239,212.2 239.5,211.3 240,210.5 240.6,209.7 241.2,209 241.9,208.3 242.6,207.8 243.3,207.3 244,206.8 244.7,206.5 245.5,206.3 246.2,206.1 246.9,206.1 247.5,206.2 248.1,206.3 248.7,206.6 249.2,207 249.7,207.4 250.1,207.9 250.4,208.5 250.6,209.2 250.8,210 250.8,210.7" fill="none" stroke="#1c1c1c" stroke-width="0.6"/>
<path d="M346.7,282.3 C338,283.5 330,288.5 325.3,294.1 C322,296.5 320,297 318.7,297.1 C313.5,296.5 308.5,299.5 305.8,305 C303.5,310.5 303.5,318 306.5,322.5 C309,326.5 314,329.8 318.7,331 L322,342 L336,352 Z" fill="#fff" stroke="#1c1c1c" stroke-width="0.9"/>
<path d="M318.7,297.1 C321.5,300 322.5,305 321.5,312" fill="none" stroke="#1c1c1c" stroke-width="0.8"/>
<path d="M311,313 C313,316 316,318 318.5,318.5 L319,324 C316,324 313,322.5 311.5,320" fill="none" stroke="#1c1c1c" stroke-width="0.7"/>
<path d="M325.3,294.1 C324,300 324.5,308 326,313" fill="none" stroke="#1c1c1c" stroke-width="0.7"/>
<ellipse cx="349.3" cy="316.1" rx="25" ry="39.9" fill="#fff" stroke="#1c1c1c" stroke-width="0.9" transform="rotate(29.6 349.3 316.1)"/>
<ellipse cx="349.8" cy="316.6" rx="21.2" ry="35.4" fill="none" stroke="#1c1c1c" stroke-width="0.9" transform="rotate(30 349.8 316.6)"/>
<ellipse cx="367.1" cy="330.8" rx="1.2" ry="1.6" fill="#fff" stroke="#1c1c1c" stroke-width="0.9" transform="rotate(30 367.1 330.8)"/>
<ellipse cx="356.6" cy="342.6" rx="1.2" ry="1.6" fill="#fff" stroke="#1c1c1c" stroke-width="0.9" transform="rotate(30 356.6 342.6)"/>
<ellipse cx="344.7" cy="349.3" rx="1.2" ry="1.6" fill="#fff" stroke="#1c1c1c" stroke-width="0.9" transform="rotate(30 344.7 349.3)"/>
<ellipse cx="333.8" cy="349.5" rx="1.2" ry="1.6" fill="#fff" stroke="#1c1c1c" stroke-width="0.9" transform="rotate(30 333.8 349.5)"/>
<ellipse cx="326.1" cy="343.2" rx="1.2" ry="1.6" fill="#fff" stroke="#1c1c1c" stroke-width="0.9" transform="rotate(30 326.1 343.2)"/>
<ellipse cx="323" cy="331.5" rx="1.2" ry="1.6" fill="#fff" stroke="#1c1c1c" stroke-width="0.9" transform="rotate(30 323 331.5)"/>
<ellipse cx="325.3" cy="316.9" rx="1.2" ry="1.6" fill="#fff" stroke="#1c1c1c" stroke-width="0.9" transform="rotate(30 325.3 316.9)"/>
<ellipse cx="332.3" cy="302.2" rx="1.2" ry="1.6" fill="#fff" stroke="#1c1c1c" stroke-width="0.9" transform="rotate(30 332.3 302.2)"/>
<ellipse cx="342.8" cy="290.4" rx="1.2" ry="1.6" fill="#fff" stroke="#1c1c1c" stroke-width="0.9" transform="rotate(30 342.8 290.4)"/>
<ellipse cx="354.7" cy="283.7" rx="1.2" ry="1.6" fill="#fff" stroke="#1c1c1c" stroke-width="0.9" transform="rotate(30 354.7 283.7)"/>
<ellipse cx="365.6" cy="283.5" rx="1.2" ry="1.6" fill="#fff" stroke="#1c1c1c" stroke-width="0.9" transform="rotate(30 365.6 283.5)"/>
<ellipse cx="373.3" cy="289.8" rx="1.2" ry="1.6" fill="#fff" stroke="#1c1c1c" stroke-width="0.9" transform="rotate(30 373.3 289.8)"/>
<ellipse cx="376.4" cy="301.5" rx="1.2" ry="1.6" fill="#fff" stroke="#1c1c1c" stroke-width="0.9" transform="rotate(30 376.4 301.5)"/>
<ellipse cx="374.1" cy="316.1" rx="1.2" ry="1.6" fill="#fff" stroke="#1c1c1c" stroke-width="0.9" transform="rotate(30 374.1 316.1)"/>
<path d="M356.3,301.5 C358,298.5 361,297.5 364,299 C367.5,301.5 369,307 368.5,313 C368,318.5 366.5,322.5 362.9,325.1 C361.5,320 361.5,316 362,312 C362.5,307 360.5,303 356.3,301.5 Z" fill="none" stroke="#1c1c1c" stroke-width="0.9"/>
<path d="M359,302 C363,304 365,309 364.5,315 C364.2,318.5 363.8,321 363,323" fill="none" stroke="#1c1c1c" stroke-width="0.6"/>
<path d="M329.7,322.9 C333,321 336.5,320.2 339.3,320.7 C341.3,326 342.3,331 341.5,336.9 C341,340 340.3,343 339.3,345.8 C337,346.5 335,345.6 333.4,344.3 C332.8,340 332,336.5 330.5,334 C329.5,330 329,326 329.7,322.9 Z" fill="none" stroke="#1c1c1c" stroke-width="0.9"/>
<ellipse cx="337.8" cy="343.5" rx="1.3" ry="1.6" fill="none" stroke="#1c1c1c" stroke-width="0.8" transform="rotate(20 337.8 343.5)"/>
<path d="M340,294 C346,294.5 352,297 356,300.5 M333,301 C332,304 331.5,308 332,311 M341,311 C343,313 344,316 345,318" fill="none" stroke="#1c1c1c" stroke-width="0.7"/>
<path d="M410.2,241 L406.1,247.6 L408.6,251.3 L412.1,254.6 L414.8,254.3 L414.8,242.3 L412.1,241.6 Z" fill="#fff" stroke="#1c1c1c" stroke-width="0.9"/>
<line x1="412.1" y1="241.6" x2="412.1" y2="254.6" stroke="#1c1c1c" stroke-width="0.9"/>
<line x1="410.4" y1="243.5" x2="410.5" y2="246" stroke="#1c1c1c" stroke-width="0.9"/>
<ellipse cx="449.2" cy="221.4" rx="2.8" ry="3.6" fill="#fff" stroke="#1c1c1c" stroke-width="1.1" transform="rotate(20 449.2 221.4)"/>
<ellipse cx="449.4" cy="221.5" rx="1.1" ry="1.5" fill="none" stroke="#1c1c1c" stroke-width="0.8" transform="rotate(20 449.4 221.5)"/>
<polygon points="500.4,190.9 485.7,199.1 487.5,202.3 502.2,194.1" fill="#fff" stroke="#1c1c1c" stroke-width="0.9"/>
<line x1="494.9" y1="194" x2="495.3" y2="197.9" stroke="#1c1c1c" stroke-width="0.95"/>
<line x1="493.6" y1="194.7" x2="494" y2="198.6" stroke="#1c1c1c" stroke-width="0.95"/>
<line x1="492.4" y1="195.4" x2="492.7" y2="199.4" stroke="#1c1c1c" stroke-width="0.95"/>
<line x1="491.1" y1="196.2" x2="491.4" y2="200.1" stroke="#1c1c1c" stroke-width="0.95"/>
<line x1="489.8" y1="196.9" x2="490.1" y2="200.8" stroke="#1c1c1c" stroke-width="0.95"/>
<line x1="488.5" y1="197.6" x2="488.8" y2="201.5" stroke="#1c1c1c" stroke-width="0.95"/>
<line x1="487.2" y1="198.3" x2="487.5" y2="202.3" stroke="#1c1c1c" stroke-width="0.95"/>
<ellipse cx="501.3" cy="192.5" rx="3.5" ry="4.4" fill="#fff" stroke="#1c1c1c" stroke-width="1.0" transform="rotate(20 501.3 192.5)"/>
<ellipse cx="501.3" cy="192.5" rx="2" ry="2.4" fill="none" stroke="#1c1c1c" stroke-width="0.7" transform="rotate(20 501.3 192.5)"/>
<ellipse cx="453" cy="315.4" rx="10.7" ry="15.8" fill="#fff" stroke="#1c1c1c" stroke-width="0.9" transform="rotate(-25 453 315.4)"/>
<polygon points="446.4,301.1 441.8,303.2 455.2,331.8 459.7,329.7" fill="#fff" stroke="none"/>
<line x1="446.4" y1="301.1" x2="441.8" y2="303.2" stroke="#1c1c1c" stroke-width="0.9"/>
<line x1="459.7" y1="329.7" x2="455.2" y2="331.8" stroke="#1c1c1c" stroke-width="0.9"/>
<polyline points="444.9,302 445.1,300.3 446,299.8 447.4,300.7 448.3,300.5 449,299.1 450.1,299.2 451.3,300.5 452.3,300.8 453.4,300 454.5,300.5 455.4,302.2 456.4,302.8 457.7,302.6 458.7,303.6 459.2,305.4 460.1,306.4 461.5,306.9 462.3,308.1 462.3,309.9 462.9,311.1 464.3,312.1 464.8,313.5 464.2,315 464.5,316.3 465.7,317.8 465.8,319.2 464.8,320.1 464.8,321.4 465.6,323.1 465.3,324.3 464,324.7 463.6,325.7 463.9,327.5 463.3,328.4 461.9,328.2 461.1,328.8" fill="none" stroke="#1c1c1c" stroke-width="0.8"/>
<ellipse cx="448.5" cy="317.5" rx="10.7" ry="15.8" fill="none" stroke="#1c1c1c" stroke-width="1.0" transform="rotate(-25 448.5 317.5)"/>
<polyline points="458.3,325.2 456.9,325.1 456.5,325.9 457,327.7 456.4,328.4 455,327.7 454.3,328.2 454.3,329.9 453.5,330.2 452.2,328.9 451.4,329 450.8,330.4 449.9,330.2 448.9,328.6 448.1,328.2 447.1,329.1 446.1,328.5 445.6,326.7 444.8,326 443.5,326.2 442.7,325.3 442.7,323.6 442.1,322.6 440.7,322.2 440.2,321.1 440.7,319.6 440.3,318.6 439,317.5 438.8,316.3 439.7,315.4 439.7,314.3 438.6,312.8 438.7,311.7 440,311.4 440.2,310.5 439.6,308.8 440,307.9 441.4,308.3 442,307.7 441.8,305.9 442.5,305.4 443.9,306.4 444.6,306.2 444.9,304.6 445.8,304.6" fill="none" stroke="#1c1c1c" stroke-width="0.8"/>
<ellipse cx="355.6" cy="372.6" rx="10.6" ry="14.2" fill="#fff" stroke="#1c1c1c" stroke-width="0.9" transform="rotate(-25 355.6 372.6)"/>
<polygon points="349.6,359.7 345.5,361.6 357.5,387.4 361.6,385.5" fill="#fff" stroke="none"/>
<line x1="349.6" y1="359.7" x2="345.5" y2="361.6" stroke="#1c1c1c" stroke-width="0.9"/>
<line x1="361.6" y1="385.5" x2="357.5" y2="387.4" stroke="#1c1c1c" stroke-width="0.9"/>
<polyline points="348.1,360.6 348.3,358.9 349.2,358.5 350.6,359.3 351.5,359.1 352.2,357.7 353.2,357.7 354.4,359.1 355.4,359.2 356.5,358.3 357.5,358.8 358.4,360.4 359.3,361 360.6,360.7 361.6,361.5 362,363.3 362.8,364.2 364.2,364.4 365,365.5 364.8,367.2 365.3,368.3 366.7,369.2 367.2,370.5 366.5,371.8 366.7,373 367.9,374.3 368,375.6 366.9,376.5 366.8,377.6 367.6,379.3 367.3,380.4 366,380.8 365.5,381.7 365.8,383.4 365.2,384.3 363.7,384 363,384.6" fill="none" stroke="#1c1c1c" stroke-width="0.8"/>
<ellipse cx="351.5" cy="374.5" rx="10.6" ry="14.2" fill="none" stroke="#1c1c1c" stroke-width="1.0" transform="rotate(-25 351.5 374.5)"/>
<polyline points="360.8,381.2 359.3,381.1 358.9,381.8 359.4,383.6 358.8,384.2 357.4,383.5 356.7,383.9 356.7,385.6 355.9,385.9 354.6,384.7 353.9,384.8 353.3,386.2 352.4,386.1 351.5,384.5 350.7,384.2 349.7,385.2 348.8,384.7 348.4,382.9 347.7,382.3 346.4,382.7 345.6,381.9 345.8,380.2 345.2,379.4 343.7,379.1 343.3,378.1 343.9,376.7 343.6,375.8 342.2,374.8 342,373.8 343.1,372.9 343.1,372 342,370.6 342.2,369.6 343.5,369.3 343.8,368.5 343.1,366.8 343.6,366 345,366.5 345.6,365.9 345.4,364.1 346.1,363.7 347.4,364.7 348.1,364.4 348.5,362.9 349.4,362.8" fill="none" stroke="#1c1c1c" stroke-width="0.8"/>
<path d="M405.8,319.9 L410.8,317.4 L417.3,317.4 L426.3,320.7 L427.1,328.1 C428.6,335.0 429.2,344.0 427.3,352.7 L425.5,359.2 L417.3,362.5 L409.9,365.0 L408.3,360.9 C406.3,357.0 405.5,353.0 409.1,349.4 C414.0,345.0 415.0,339.0 412.4,333.0 C409.0,328.0 405.0,325.0 405.8,319.9 Z" fill="#fff" stroke="#1c1c1c" stroke-width="0.9"/>
<path d="M417.3,328.1 C421.8,335.0 423.8,345.0 422.2,352.7 L419.3,357.6" fill="none" stroke="#1c1c1c" stroke-width="0.8"/>
<path d="M421.0,327.0 C425.5,334.0 426.8,344.0 425.5,352.0 L423.0,357.5" fill="none" stroke="#1c1c1c" stroke-width="0.7"/>
<path d="M417.3,317.4 L417.3,328.1 M410.8,317.4 L412.0,324.0 M417.3,328.1 L426.5,323.0" fill="none" stroke="#1c1c1c" stroke-width="0.7"/>
<ellipse cx="421.4" cy="325.5" rx="1.6" ry="2.1" fill="none" stroke="#1c1c1c" stroke-width="0.9" transform="rotate(20 421.4 325.5)"/>
<path d="M409.9,365.0 L410.5,359.5 L418.0,356.5 M423.0,337.0 L425.5,336.0 M423.2,343.0 L425.8,342.0 M422.8,349.0 L425.3,348.0" fill="none" stroke="#1c1c1c" stroke-width="0.6"/>
<path d="M379.8,340.9 L384.8,338.4 L391.3,338.4 L400.3,341.7 L401.1,349.1 C402.6,356.0 403.2,365.0 401.3,373.7 L399.5,380.2 L391.3,383.5 L383.9,386.0 L382.3,381.9 C380.3,378.0 379.5,374.0 383.1,370.4 C388.0,366.0 389.0,360.0 386.4,354.0 C383.0,349.0 379.0,346.0 379.8,340.9 Z" fill="#fff" stroke="#1c1c1c" stroke-width="0.9"/>
<path d="M391.3,349.1 C395.8,356.0 397.8,366.0 396.2,373.7 L393.3,378.6" fill="none" stroke="#1c1c1c" stroke-width="0.8"/>
<path d="M395.0,348.0 C399.5,355.0 400.8,365.0 399.5,373.0 L397.0,378.5" fill="none" stroke="#1c1c1c" stroke-width="0.7"/>
<path d="M391.3,338.4 L391.3,349.1 M384.8,338.4 L386.0,345.0 M391.3,349.1 L400.5,344.0" fill="none" stroke="#1c1c1c" stroke-width="0.7"/>
<ellipse cx="395.4" cy="346.5" rx="1.6" ry="2.1" fill="none" stroke="#1c1c1c" stroke-width="0.9" transform="rotate(20 395.4 346.5)"/>
<path d="M383.9,386.0 L384.5,380.5 L392.0,377.5 M397.0,358.0 L399.5,357.0 M397.2,364.0 L399.8,363.0 M396.8,370.0 L399.3,369.0" fill="none" stroke="#1c1c1c" stroke-width="0.6"/>
<polygon points="215.5,386.1 229.7,378.5 231.2,381.3 217.6,389.7" fill="#fff" stroke="#1c1c1c" stroke-width="0.9"/>
<line x1="226.5" y1="380" x2="228" y2="382.9" stroke="#1c1c1c" stroke-width="0.8"/>
<line x1="227.8" y1="379.3" x2="229.3" y2="382.2" stroke="#1c1c1c" stroke-width="0.8"/>
<line x1="229.1" y1="378.6" x2="230.6" y2="381.5" stroke="#1c1c1c" stroke-width="0.8"/>
<path d="M209.3,390.5 L211,387.8 L214.5,386.6 L217.6,388.2 L217.2,391.5 L214.6,393.6 L211,394 Z" fill="#fff" stroke="#1c1c1c" stroke-width="1.0"/>
<path d="M211,387.8 L212.5,390.6 L211,394 M212.5,390.6 L216.5,389.6" fill="none" stroke="#1c1c1c" stroke-width="0.8"/>
<ellipse cx="213.6" cy="390.6" rx="1.3" ry="1.6" fill="none" stroke="#1c1c1c" stroke-width="0.8" transform="rotate(28 213.6 390.6)"/>
<path d="M305.4,389 C304.4,387 306,385.5 308,386.5 C309.5,387.3 309.6,389 308.5,390.2 M308,386.5 L322.6,398.6 L322,400.1 L307.6,390.6" fill="none" stroke="#1c1c1c" stroke-width="0.9"/>
<line x1="308.6" y1="388.6" x2="322.3" y2="399.4" stroke="#1c1c1c" stroke-width="0.6"/>
<polygon points="414.8,416 402.2,408.8 400.8,411.4 413.4,418.6" fill="#fff" stroke="#1c1c1c" stroke-width="0.9"/>
<line x1="410.5" y1="413.5" x2="407.6" y2="415.3" stroke="#1c1c1c" stroke-width="0.95"/>
<line x1="408.8" y1="412.5" x2="405.9" y2="414.3" stroke="#1c1c1c" stroke-width="0.95"/>
<line x1="407" y1="411.5" x2="404.2" y2="413.3" stroke="#1c1c1c" stroke-width="0.95"/>
<line x1="405.3" y1="410.5" x2="402.4" y2="412.4" stroke="#1c1c1c" stroke-width="0.95"/>
<line x1="403.6" y1="409.6" x2="400.7" y2="411.4" stroke="#1c1c1c" stroke-width="0.95"/>
<ellipse cx="414.1" cy="417.3" rx="2.7" ry="3.4" fill="#fff" stroke="#1c1c1c" stroke-width="1.0" transform="rotate(20 414.1 417.3)"/>
<ellipse cx="414.1" cy="417.3" rx="1.5" ry="1.9" fill="none" stroke="#1c1c1c" stroke-width="0.7" transform="rotate(20 414.1 417.3)"/>
<ellipse cx="388.9" cy="401.8" rx="2.5" ry="3.1" fill="#fff" stroke="#1c1c1c" stroke-width="0.9" transform="rotate(20 388.9 401.8)"/>
<ellipse cx="389.2" cy="401.9" rx="1" ry="1.3" fill="none" stroke="#1c1c1c" stroke-width="0.6" transform="rotate(20 389.2 401.9)"/>
<ellipse cx="576.7" cy="431" rx="10.6" ry="16.1" fill="#fff" stroke="#1c1c1c" stroke-width="0.9" transform="rotate(-30 576.7 431)"/>
<polygon points="568.6,417.1 563.5,420.1 579.5,447.9 584.7,444.9" fill="#fff" stroke="none"/>
<line x1="568.6" y1="417.1" x2="563.5" y2="420.1" stroke="#1c1c1c" stroke-width="0.9"/>
<line x1="584.7" y1="444.9" x2="579.5" y2="447.9" stroke="#1c1c1c" stroke-width="0.9"/>
<ellipse cx="571.5" cy="434" rx="10.6" ry="16.1" fill="#fff" stroke="#1c1c1c" stroke-width="0.9" transform="rotate(-30 571.5 434)"/>
<polyline points="561.8,431.8 561.6,430.3 561.7,428.8 561.9,427.5 562.2,426.2 562.7,425.1 563.4,424.1 564.2,423.3 565.1,422.7 566.1,422.2 567.3,422 568.4,422 569.7,422.1 571,422.5 572.2,423 573.5,423.8 574.7,424.7 575.9,425.8 577,427 578,428.3 578.9,429.7 579.7,431.2 580.3,432.7 580.8,434.3 581.2,435.9 581.3,437.4 581.4,438.8 581.2,440.2 580.9,441.5 580.4,442.7 579.8,443.7 579,444.5 578.1,445.2 577.1,445.7 576,446 574.8,446 573.6,445.9 572.4,445.6 571.1,445.1 569.8,444.4 568.6,443.5" fill="none" stroke="#1c1c1c" stroke-width="0.9"/>
<ellipse cx="549.5" cy="448.3" rx="12.5" ry="17.3" fill="#fff" stroke="#1c1c1c" stroke-width="0.9" transform="rotate(-30 549.5 448.3)"/>
<polygon points="540.9,433.3 534.3,437.2 549.3,463.2 558.1,463.3" fill="#fff" stroke="none"/>
<line x1="540.9" y1="433.3" x2="534.3" y2="437.2" stroke="#1c1c1c" stroke-width="0.9"/>
<line x1="558.1" y1="463.3" x2="549.3" y2="463.2" stroke="#1c1c1c" stroke-width="0.9"/>
<polyline points="539.3,434.5 538.8,432.8 539.2,432.5 540.6,433.5 541,433.2 540.8,431.6 541.3,431.3 542.5,432.6 543,432.4 543,430.8 543.6,430.7 544.7,432.1 545.2,432.1 545.5,430.6 546.1,430.6 547,432.2 547.5,432.2 548,430.9 548.7,431 549.3,432.7 549.9,432.9 550.6,431.7 551.3,432 551.7,433.6 552.3,434 553.2,433 553.8,433.4 554,435.1 554.6,435.5 555.7,434.8 556.2,435.3 556.2,436.9 556.7,437.4 557.9,436.9 558.5,437.5 558.2,439 558.6,439.6 560,439.4 560.4,440.1 559.9,441.4 560.3,442.1 561.7,442.2 562.1,442.9 561.3,444.1 561.6,444.7 563,445.2 563.3,445.9 562.4,446.8 562.6,447.5 564,448.2 564.2,449 563,449.6 563.2,450.3 564.5,451.3 564.6,452 563.3,452.4 563.3,453.1 564.6,454.2 564.5,454.9 563.2,455 563.1,455.6 564.2,457 564,457.7 562.6,457.5 562.4,458 563.4,459.5 563.1,460.1 561.7,459.6 561.4,460.1 562.2,461.7 561.8,462.2 560.4,461.5 560,461.8 560.6,463.5 560.1,463.9 558.8,462.9 558.3,463.2 558.6,464.8 558.1,465.1 556.9,463.9 556.4,464.1" fill="none" stroke="#1c1c1c" stroke-width="0.9"/>
<line x1="534.3" y1="437.2" x2="540.9" y2="433.3" stroke="#1c1c1c" stroke-width="0.8"/>
<line x1="537" y1="436.3" x2="543.9" y2="432.2" stroke="#1c1c1c" stroke-width="0.8"/>
<line x1="540" y1="436.2" x2="547.4" y2="432.2" stroke="#1c1c1c" stroke-width="0.8"/>
<line x1="543.1" y1="437.2" x2="551" y2="433.3" stroke="#1c1c1c" stroke-width="0.8"/>
<line x1="546.1" y1="439" x2="554.5" y2="435.4" stroke="#1c1c1c" stroke-width="0.8"/>
<line x1="548.9" y1="441.6" x2="557.7" y2="438.4" stroke="#1c1c1c" stroke-width="0.8"/>
<line x1="551.2" y1="444.8" x2="560.3" y2="442.1" stroke="#1c1c1c" stroke-width="0.8"/>
<line x1="552.8" y1="448.3" x2="562.2" y2="446.2" stroke="#1c1c1c" stroke-width="0.8"/>
<line x1="553.6" y1="452" x2="563.2" y2="450.4" stroke="#1c1c1c" stroke-width="0.8"/>
<line x1="553.7" y1="455.6" x2="563.2" y2="454.5" stroke="#1c1c1c" stroke-width="0.8"/>
<line x1="553" y1="458.8" x2="562.4" y2="458.2" stroke="#1c1c1c" stroke-width="0.8"/>
<line x1="551.5" y1="461.4" x2="560.6" y2="461.2" stroke="#1c1c1c" stroke-width="0.8"/>
<line x1="549.3" y1="463.2" x2="558.1" y2="463.3" stroke="#1c1c1c" stroke-width="0.8"/>
<ellipse cx="541.8" cy="450.2" rx="10.8" ry="15" fill="#fff" stroke="#1c1c1c" stroke-width="0.9" transform="rotate(-30 541.8 450.2)"/>
<ellipse cx="541.8" cy="450.2" rx="9.4" ry="13" fill="none" stroke="#1c1c1c" stroke-width="0.8" transform="rotate(-30 541.8 450.2)"/>
<polyline points="532.8,448.2 532.8,446.9 532.9,445.7 533.2,444.6 533.6,443.5 534.1,442.6 534.8,441.8 535.6,441.1 536.4,440.6 537.4,440.2 538.4,440 539.4,440 540.5,440.1 541.6,440.4 542.8,440.9 543.9,441.5 544.9,442.2 545.9,443.1 546.9,444.1 547.7,445.2 548.5,446.3 549.1,447.6 549.6,448.9 550,450.2 550.3,451.5 550.4,452.8 550.4,454 550.2,455.2 549.9,456.3 549.4,457.3 548.9,458.2 548.2,459 547.4,459.6 546.5,460.1 545.6,460.4 544.5,460.6 543.5,460.6 542.4,460.4 541.2,460.1 540.1,459.6 539,458.9" fill="none" stroke="#1c1c1c" stroke-width="0.9"/>
<ellipse cx="513.5" cy="466" rx="19.1" ry="25.5" fill="#fff" stroke="#1c1c1c" stroke-width="0.9" transform="rotate(-30 513.5 466)"/>
<polygon points="500.7,443.9 497.2,445.9 522.8,490.1 526.2,488.1" fill="#fff" stroke="none"/>
<line x1="500.7" y1="443.9" x2="497.2" y2="445.9" stroke="#1c1c1c" stroke-width="0.9"/>
<line x1="526.2" y1="488.1" x2="522.8" y2="490.1" stroke="#1c1c1c" stroke-width="0.9"/>
<polyline points="498.3,445.7 501.6,446.9 503.3,446 503.9,442.6 506.1,442.1 508.9,444.8 510.9,444.9 512.9,442.5 515.3,443.2 517.1,446.8 519.1,448 522,447.1 524.1,448.9 524.6,452.7 526.2,454.6 529.5,455.5 530.9,457.9 529.9,461.2 530.7,463.5 533.7,465.9 534.2,468.6 531.9,470.6 531.9,472.9 534,476.3 533.4,478.7 530.3,479.2 529.4,480.9 530.2,484.7 528.7,486.3" fill="none" stroke="#1c1c1c" stroke-width="0.9"/>
<ellipse cx="510" cy="467" rx="16.9" ry="22.5" fill="#fff" stroke="#1c1c1c" stroke-width="0.9" transform="rotate(-30 510 467)"/>
<rect x="522.2" y="459.4" width="3.2" height="3.8" rx="0.8" fill="#fff" stroke="#1c1c1c" stroke-width="0.8" transform="rotate(68 523.8 461.3)"/>
<rect x="524.6" y="469.1" width="3.2" height="3.8" rx="0.8" fill="#fff" stroke="#1c1c1c" stroke-width="0.8" transform="rotate(104 526.2 471.0)"/>
<rect x="522.7" y="477.7" width="3.2" height="3.8" rx="0.8" fill="#fff" stroke="#1c1c1c" stroke-width="0.8" transform="rotate(131 524.3 479.6)"/>
<rect x="517.0" y="482.9" width="3.2" height="3.8" rx="0.8" fill="#fff" stroke="#1c1c1c" stroke-width="0.8" transform="rotate(154 518.6 484.8)"/>
<rect x="508.9" y="483.4" width="3.2" height="3.8" rx="0.8" fill="#fff" stroke="#1c1c1c" stroke-width="0.8" transform="rotate(178 510.5 485.3)"/>
<rect x="500.7" y="478.9" width="3.2" height="3.8" rx="0.8" fill="#fff" stroke="#1c1c1c" stroke-width="0.8" transform="rotate(209 502.3 480.8)"/>
<rect x="494.6" y="470.8" width="3.2" height="3.8" rx="0.8" fill="#fff" stroke="#1c1c1c" stroke-width="0.8" transform="rotate(248 496.2 472.7)"/>
<rect x="492.2" y="461.1" width="3.2" height="3.8" rx="0.8" fill="#fff" stroke="#1c1c1c" stroke-width="0.8" transform="rotate(-76 493.8 463.0)"/>
<rect x="494.1" y="452.5" width="3.2" height="3.8" rx="0.8" fill="#fff" stroke="#1c1c1c" stroke-width="0.8" transform="rotate(-49 495.7 454.4)"/>
<rect x="499.8" y="447.3" width="3.2" height="3.8" rx="0.8" fill="#fff" stroke="#1c1c1c" stroke-width="0.8" transform="rotate(-26 501.4 449.2)"/>
<rect x="507.9" y="446.8" width="3.2" height="3.8" rx="0.8" fill="#fff" stroke="#1c1c1c" stroke-width="0.8" transform="rotate(-2 509.5 448.7)"/>
<rect x="516.1" y="451.3" width="3.2" height="3.8" rx="0.8" fill="#fff" stroke="#1c1c1c" stroke-width="0.8" transform="rotate(29 517.7 453.2)"/>
<ellipse cx="511.5" cy="467" rx="12" ry="16" fill="none" stroke="#1c1c1c" stroke-width="0.6" transform="rotate(-30 511.5 467)"/>
<ellipse cx="511.8" cy="467.5" rx="6.1" ry="11.5" fill="#fff" stroke="#1c1c1c" stroke-width="0.9" transform="rotate(-30 511.8 467.5)"/>
<polyline points="516.8,470.8 516.6,471.3 516.3,471.8 516,472.2 515.5,472.5 515.1,472.8 514.6,473 514.1,473.1 513.5,473.1 512.9,473.1 512.4,472.9 511.8,472.7 511.2,472.4 510.6,472 510.1,471.6 509.6,471.1 509.1,470.5 508.7,469.9 508.4,469.3 508.1,468.6 507.8,467.9 507.6,467.3 507.5,466.6 507.5,465.9 507.5,465.3 507.7,464.7 507.8,464.1 508.1,463.6 508.4,463.1 508.7,462.7 509.2,462.4 509.6,462.1 510.1,462 510.7,461.9 511.2,461.9 511.8,462 512.4,462.1 513,462.4 513.6,462.7 514.1,463.1 514.6,463.5" fill="none" stroke="#1c1c1c" stroke-width="0.8"/>
<ellipse cx="483.7" cy="483.8" rx="10.7" ry="14.7" fill="#fff" stroke="#1c1c1c" stroke-width="0.9" transform="rotate(-30 483.7 483.8)"/>
<polygon points="476.3,471 474.1,472.3 488.9,497.7 491,496.5" fill="#fff" stroke="none"/>
<line x1="476.3" y1="471" x2="474.1" y2="472.3" stroke="#1c1c1c" stroke-width="0.9"/>
<line x1="491" y1="496.5" x2="488.9" y2="497.7" stroke="#1c1c1c" stroke-width="0.9"/>
<ellipse cx="481.5" cy="485" rx="10.7" ry="14.7" fill="#fff" stroke="#1c1c1c" stroke-width="0.9" transform="rotate(-30 481.5 485)"/>
<polyline points="473.7,483.3 473.7,482.2 473.8,481.2 474,480.2 474.4,479.3 474.8,478.5 475.4,477.8 476.1,477.2 476.8,476.7 477.7,476.4 478.5,476.2 479.5,476.2 480.4,476.3 481.4,476.5 482.4,476.9 483.3,477.4 484.2,478.1 485.1,478.8 485.9,479.7 486.7,480.6 487.3,481.6 487.9,482.7 488.3,483.8 488.6,484.9 488.9,486.1 489,487.2 488.9,488.3 488.8,489.3 488.5,490.3 488.1,491.2 487.6,491.9 487,492.6 486.3,493.2 485.5,493.6 484.7,493.9 483.8,494 482.9,494 481.9,493.9 480.9,493.6 480,493.2 479,492.6" fill="none" stroke="#1c1c1c" stroke-width="0.9"/>
<ellipse cx="358.1" cy="556.9" rx="12.5" ry="18.7" fill="#fff" stroke="#1c1c1c" stroke-width="0.9" transform="rotate(-30 358.1 556.9)"/>
<polygon points="348.7,540.7 346.1,542.2 364.9,574.6 367.4,573.1" fill="#fff" stroke="none"/>
<line x1="348.7" y1="540.7" x2="346.1" y2="542.2" stroke="#1c1c1c" stroke-width="0.9"/>
<line x1="367.4" y1="573.1" x2="364.9" y2="574.6" stroke="#1c1c1c" stroke-width="0.9"/>
<ellipse cx="355.5" cy="558.4" rx="12.5" ry="18.7" fill="#fff" stroke="#1c1c1c" stroke-width="0.9" transform="rotate(-30 355.5 558.4)"/>
<polyline points="345.6,556.8 345.6,555.6 345.6,554.5 345.8,553.4 346.2,552.4 346.6,551.6 347.2,550.8 347.9,550.2 348.6,549.8 349.5,549.4 350.4,549.3 351.3,549.3 352.3,549.4 353.4,549.7 354.4,550.2 355.4,550.8 356.4,551.5 357.3,552.4 358.2,553.3 359,554.4 359.7,555.5 360.3,556.7 360.8,557.9 361.2,559.1 361.5,560.4 361.6,561.6 361.6,562.7 361.5,563.8 361.3,564.9 360.9,565.8 360.4,566.6 359.8,567.4 359.1,567.9 358.3,568.3 357.5,568.6 356.6,568.7 355.6,568.7 354.6,568.5 353.6,568.2 352.5,567.7 351.5,567" fill="none" stroke="#1c1c1c" stroke-width="0.9"/>
<ellipse cx="353.6" cy="559" rx="7" ry="10.5" fill="none" stroke="#1c1c1c" stroke-width="0.5" transform="rotate(-30 353.6 559)"/>
<polygon points="468.1,495.1 470.1,496.4 470.9,498.3 470.3,500.1 470.7,501.8 472.2,504 472.2,505.8 470.8,506.6 470.5,507.9 471.2,510.4 470.5,511.6 468.5,511.1 467.6,511.8 467.3,513.9 466,514.2 464.1,512.5 462.8,512.4 461.6,513.5 460.1,512.8 458.8,510.5 457.4,509.5 455.6,509.4 454.3,507.9 453.9,505.5 452.9,503.9 450.9,502.6 450.1,500.7 450.7,498.9 450.3,497.2 448.8,495 448.8,493.2 450.2,492.4 450.5,491.1 449.8,488.6 450.5,487.4 452.5,487.9 453.4,487.2 453.7,485.1 455,484.8 456.9,486.5 458.2,486.6 459.4,485.5 460.9,486.2 462.2,488.5 463.6,489.5 465.4,489.6 466.7,491.1 467.1,493.5 468.1,495.1" fill="#fff" stroke="#1c1c1c" stroke-width="0.9"/>
<polygon points="453.4,487.2 443.9,499.3 451.1,511.7 467.6,511.8" fill="#fff" stroke="none"/>
<line x1="453.4" y1="487.2" x2="443.9" y2="499.3" stroke="#1c1c1c" stroke-width="0.9"/>
<line x1="467.6" y1="511.8" x2="451.1" y2="511.7" stroke="#1c1c1c" stroke-width="0.9"/>
<line x1="444.3" y1="499.1" x2="453.5" y2="485.5" stroke="#1c1c1c" stroke-width="0.85"/>
<line x1="444.7" y1="499" x2="454.3" y2="485.2" stroke="#1c1c1c" stroke-width="0.6"/>
<line x1="446" y1="498.9" x2="457.2" y2="485.2" stroke="#1c1c1c" stroke-width="0.85"/>
<line x1="446.5" y1="499" x2="458.3" y2="485.4" stroke="#1c1c1c" stroke-width="0.6"/>
<line x1="447.9" y1="499.7" x2="461.5" y2="486.7" stroke="#1c1c1c" stroke-width="0.85"/>
<line x1="448.4" y1="500" x2="462.5" y2="487.4" stroke="#1c1c1c" stroke-width="0.6"/>
<line x1="449.8" y1="501.2" x2="465.5" y2="490.1" stroke="#1c1c1c" stroke-width="0.85"/>
<line x1="450.2" y1="501.6" x2="466.4" y2="491.1" stroke="#1c1c1c" stroke-width="0.6"/>
<line x1="451.4" y1="503.3" x2="468.9" y2="494.6" stroke="#1c1c1c" stroke-width="0.85"/>
<line x1="451.7" y1="503.8" x2="469.6" y2="495.9" stroke="#1c1c1c" stroke-width="0.6"/>
<line x1="452.4" y1="505.7" x2="471.2" y2="499.9" stroke="#1c1c1c" stroke-width="0.85"/>
<line x1="452.6" y1="506.3" x2="471.5" y2="501.2" stroke="#1c1c1c" stroke-width="0.6"/>
<line x1="452.8" y1="508" x2="472" y2="505.1" stroke="#1c1c1c" stroke-width="0.85"/>
<line x1="452.8" y1="508.6" x2="472" y2="506.2" stroke="#1c1c1c" stroke-width="0.6"/>
<line x1="452.4" y1="510.1" x2="471.3" y2="509.5" stroke="#1c1c1c" stroke-width="0.85"/>
<line x1="452.3" y1="510.5" x2="470.9" y2="510.4" stroke="#1c1c1c" stroke-width="0.6"/>
<line x1="451.4" y1="511.5" x2="469.1" y2="512.6" stroke="#1c1c1c" stroke-width="0.85"/>
<line x1="451.1" y1="511.7" x2="468.4" y2="513.1" stroke="#1c1c1c" stroke-width="0.6"/>
<ellipse cx="447.5" cy="505.5" rx="4.5" ry="7.2" fill="#fff" stroke="#1c1c1c" stroke-width="0.9" transform="rotate(-30 447.5 505.5)"/>
<ellipse cx="444" cy="505.8" rx="3.4" ry="5" fill="#fff" stroke="#1c1c1c" stroke-width="0.9" transform="rotate(-30 444 505.8)"/>
<ellipse cx="443.6" cy="505.9" rx="1.6" ry="2.4" fill="none" stroke="#1c1c1c" stroke-width="0.8" transform="rotate(-30 443.6 505.9)"/>
<ellipse cx="394.3" cy="537" rx="12.6" ry="17.5" fill="#fff" stroke="#1c1c1c" stroke-width="0.9" transform="rotate(-30 394.3 537)"/>
<polygon points="385.6,521.8 381.2,524.3 398.8,554.7 403.1,552.2" fill="#fff" stroke="none"/>
<line x1="385.6" y1="521.8" x2="381.2" y2="524.3" stroke="#1c1c1c" stroke-width="0.9"/>
<line x1="403.1" y1="552.2" x2="398.8" y2="554.7" stroke="#1c1c1c" stroke-width="0.9"/>
<polyline points="376.9,533.6 373.9,529.7 374.6,527.6 378.5,528.4 379.5,527.1 378.3,522.5 380,521.4 383.5,524.4 385.1,524.1 386,520.1 388.2,520.4 390.4,524.8 392.1,525.5 394.8,523.3 396.9,524.8 397.1,529.3 398.5,530.9 402.3,531 403.7,533.5 401.8,536.7 402.5,538.8 406.2,541.3 406.5,543.8 403.1,545 402.9,546.9 405.5,551 404.6,553 400.7,551.6 399.6,552.8 400.4,557.4 398.6,558.2 395.3,554.8 393.6,555 392.3,558.7 390.1,558.2 388.3,553.7 386.5,552.7" fill="#fff" stroke="#1c1c1c" stroke-width="0.9"/>
<ellipse cx="390" cy="539.5" rx="11.9" ry="16.5" fill="#fff" stroke="#1c1c1c" stroke-width="0.9" transform="rotate(-30 390 539.5)"/>
<ellipse cx="383.8" cy="541" rx="6.1" ry="9" fill="#fff" stroke="#1c1c1c" stroke-width="0.9" transform="rotate(-30 383.8 541)"/>
<polygon points="379.3,533.2 371.5,537.7 380.5,553.3 388.3,548.8" fill="#fff" stroke="none"/>
<line x1="379.3" y1="533.2" x2="371.5" y2="537.7" stroke="#1c1c1c" stroke-width="0.9"/>
<line x1="388.3" y1="548.8" x2="380.5" y2="553.3" stroke="#1c1c1c" stroke-width="0.9"/>
<ellipse cx="376" cy="545.5" rx="6.1" ry="9" fill="#fff" stroke="#1c1c1c" stroke-width="0.9" transform="rotate(-30 376 545.5)"/>
<ellipse cx="376" cy="545.5" rx="4.9" ry="7.2" fill="none" stroke="#1c1c1c" stroke-width="0.8" transform="rotate(-30 376 545.5)"/>
<polygon points="379.9,543.3 379.5,544.4 379.8,545.2 381,546.1 381.1,547 380.1,547.5 380,548.2 380.7,549.6 380.3,550.2 379.1,549.8 378.6,550.1 378.7,551.5 377.9,551.6 376.9,550.4 376.3,550.3 375.6,551.1 374.8,550.7 374.4,549.2 373.9,548.6 372.7,548.6 372.1,547.7 372.5,546.6 372.2,545.8 371,544.9 370.9,544 371.9,543.5 372,542.8 371.3,541.4 371.7,540.8 372.9,541.2 373.4,540.9 373.3,539.5 374.1,539.4 375.1,540.6 375.7,540.7 376.4,539.9 377.2,540.3 377.6,541.8 378.1,542.4 379.3,542.4 379.9,543.3" fill="none" stroke="#1c1c1c" stroke-width="0.85"/>
<ellipse cx="376.3" cy="545.3" rx="2.2" ry="3.2" fill="none" stroke="#1c1c1c" stroke-width="0.7" transform="rotate(-30 376.3 545.3)"/>
<polygon points="417.5,499.3 422.9,499.3 422.9,543 416.5,543" fill="#fff" stroke="#1c1c1c" stroke-width="0.9"/>
<ellipse cx="420.2" cy="499.3" rx="2.7" ry="1.2" fill="#fff" stroke="#1c1c1c" stroke-width="0.8"/>
<polygon points="400.5,509 439,531 436.6,535.2 398.2,513.2" fill="#fff" stroke="#1c1c1c" stroke-width="0.9"/>
<ellipse cx="399.4" cy="511.1" rx="1.5" ry="2.6" fill="#fff" stroke="#1c1c1c" stroke-width="0.8" transform="rotate(30 399.4 511.1)"/>
<path d="M410,512 C416,509 425,509.5 430.5,514.5 C433,518 432.5,526 429,531 C424.5,535 416,535.5 410.5,532 Z" fill="#fff" stroke="#1c1c1c" stroke-width="0.9"/>
<ellipse cx="415" cy="521.6" rx="6.4" ry="9.6" fill="#fff" stroke="#1c1c1c" stroke-width="1.0" transform="rotate(18 415 521.6)"/>
<ellipse cx="413.6" cy="521.8" rx="4" ry="6.5" fill="#fff" stroke="#1c1c1c" stroke-width="0.9" transform="rotate(18 413.6 521.8)"/>
<polygon points="428.5,524.5 439.2,530.7 436.8,535 426,529" fill="#fff" stroke="#1c1c1c" stroke-width="0.9"/>
<polygon points="416.5,532.3 422.9,532.3 422.9,543 416.5,543" fill="#fff" stroke="#1c1c1c" stroke-width="0.9"/>
<polygon points="411.8,476.5 411.5,486.4 411.8,487.8 413,487.8 413.3,486.4 414,486.4 414.3,487.8 415.5,487.8 415.8,486.4 416.5,486.4 416.8,487.8 418,487.8 418.3,486.4 419,486.4 419.3,487.8 420.5,487.8 420.8,486.4 421.5,486.4 421.8,487.8 423,487.8 423.3,486.4 424,486.4 424.3,487.8 425.5,487.8 425.8,486.4 426.5,486.4 426.8,487.8 428,487.8 428.3,486.4 428,476.5" fill="#fff" stroke="#1c1c1c" stroke-width="0.9"/>
<line x1="412.4" y1="479" x2="412.4" y2="486.5" stroke="#1c1c1c" stroke-width="0.8"/>
<line x1="414.9" y1="479" x2="414.9" y2="486.5" stroke="#1c1c1c" stroke-width="0.8"/>
<line x1="417.4" y1="479" x2="417.4" y2="486.5" stroke="#1c1c1c" stroke-width="0.8"/>
<line x1="419.9" y1="479" x2="419.9" y2="486.5" stroke="#1c1c1c" stroke-width="0.8"/>
<line x1="422.4" y1="479" x2="422.4" y2="486.5" stroke="#1c1c1c" stroke-width="0.8"/>
<line x1="424.9" y1="479" x2="424.9" y2="486.5" stroke="#1c1c1c" stroke-width="0.8"/>
<line x1="427.4" y1="479" x2="427.4" y2="486.5" stroke="#1c1c1c" stroke-width="0.8"/>
<ellipse cx="419.9" cy="476.5" rx="8.1" ry="4" fill="#fff" stroke="#1c1c1c" stroke-width="0.9"/>
<ellipse cx="419.9" cy="476.5" rx="2.4" ry="1.2" fill="none" stroke="#1c1c1c" stroke-width="0.8"/>
<polygon points="412.2,556.5 411.9,566.4 412.2,567.8 413.4,567.8 413.7,566.4 414.4,566.4 414.7,567.8 415.9,567.8 416.2,566.4 416.9,566.4 417.2,567.8 418.4,567.8 418.7,566.4 419.4,566.4 419.7,567.8 420.9,567.8 421.2,566.4 421.9,566.4 422.2,567.8 423.4,567.8 423.7,566.4 424.4,566.4 424.7,567.8 425.9,567.8 426.2,566.4 426.9,566.4 427.2,567.8 428.4,567.8 428.7,566.4 428.4,556.5" fill="#fff" stroke="#1c1c1c" stroke-width="0.9"/>
<line x1="412.8" y1="559" x2="412.8" y2="566.5" stroke="#1c1c1c" stroke-width="0.8"/>
<line x1="415.3" y1="559" x2="415.3" y2="566.5" stroke="#1c1c1c" stroke-width="0.8"/>
<line x1="417.8" y1="559" x2="417.8" y2="566.5" stroke="#1c1c1c" stroke-width="0.8"/>
<line x1="420.3" y1="559" x2="420.3" y2="566.5" stroke="#1c1c1c" stroke-width="0.8"/>
<line x1="422.8" y1="559" x2="422.8" y2="566.5" stroke="#1c1c1c" stroke-width="0.8"/>
<line x1="425.3" y1="559" x2="425.3" y2="566.5" stroke="#1c1c1c" stroke-width="0.8"/>
<line x1="427.8" y1="559" x2="427.8" y2="566.5" stroke="#1c1c1c" stroke-width="0.8"/>
<ellipse cx="420.3" cy="556.5" rx="8.1" ry="4" fill="#fff" stroke="#1c1c1c" stroke-width="0.9"/>
<ellipse cx="420.3" cy="556.5" rx="2.4" ry="1.2" fill="none" stroke="#1c1c1c" stroke-width="0.8"/>
<ellipse cx="384.2" cy="500.8" rx="7.2" ry="8.5" fill="#fff" stroke="#1c1c1c" stroke-width="0.9" transform="rotate(28 384.2 500.8)"/>
<polygon points="388.2,493.3 391,498.9 386.4,507.7 380.2,508.3" fill="#fff" stroke="none"/>
<line x1="388.2" y1="493.3" x2="391" y2="498.9" stroke="#1c1c1c" stroke-width="0.9"/>
<line x1="380.2" y1="508.3" x2="386.4" y2="507.7" stroke="#1c1c1c" stroke-width="0.9"/>
<polyline points="387,508 386.4,509.9 385.1,510.3 383.9,509 382.9,509 381.4,510.4 380.3,510.1 380,508.2 379.2,507.6 377.3,508 376.6,507 377.3,505.1 377,504.1 375.3,503.4 375.3,502.1 376.7,500.8 377,499.6 376,498 376.6,496.8 378.4,496.4 379.2,495.5 379.2,493.5 380.3,492.7 381.9,493.4 382.9,493 383.9,491.2 385.1,491 386,492.6 387,492.8 388.7,491.7 389.7,492.4 389.6,494.3 390.3,495.1 392.1,495.1 392.6,496.3 391.6,498 391.7,499.1" fill="none" stroke="#1c1c1c" stroke-width="0.9"/>
<line x1="386.4" y1="507.7" x2="380.2" y2="508.3" stroke="#1c1c1c" stroke-width="0.7"/>
<line x1="385.1" y1="506.6" x2="378.1" y2="506.4" stroke="#1c1c1c" stroke-width="0.7"/>
<line x1="384.4" y1="505" x2="376.9" y2="503.7" stroke="#1c1c1c" stroke-width="0.7"/>
<line x1="384.3" y1="503.1" x2="376.8" y2="500.5" stroke="#1c1c1c" stroke-width="0.7"/>
<line x1="384.9" y1="501.3" x2="377.8" y2="497.4" stroke="#1c1c1c" stroke-width="0.7"/>
<line x1="386.1" y1="499.8" x2="379.8" y2="494.8" stroke="#1c1c1c" stroke-width="0.7"/>
<line x1="387.7" y1="498.8" x2="382.5" y2="493.1" stroke="#1c1c1c" stroke-width="0.7"/>
<line x1="389.4" y1="498.5" x2="385.4" y2="492.6" stroke="#1c1c1c" stroke-width="0.7"/>
<line x1="391" y1="498.9" x2="388.2" y2="493.3" stroke="#1c1c1c" stroke-width="0.7"/>
<ellipse cx="388.7" cy="503.3" rx="4.2" ry="5" fill="#fff" stroke="#1c1c1c" stroke-width="0.9" transform="rotate(28 388.7 503.3)"/>
<ellipse cx="389" cy="503.5" rx="2" ry="2.4" fill="none" stroke="#1c1c1c" stroke-width="0.8" transform="rotate(28 389 503.5)"/>
<ellipse cx="458.3" cy="543.2" rx="7.2" ry="8.5" fill="#fff" stroke="#1c1c1c" stroke-width="0.9" transform="rotate(28 458.3 543.2)"/>
<polygon points="462.3,535.7 456.1,536.3 451.5,545.1 454.3,550.7" fill="#fff" stroke="none"/>
<line x1="462.3" y1="535.7" x2="456.1" y2="536.3" stroke="#1c1c1c" stroke-width="0.9"/>
<line x1="454.3" y1="550.7" x2="451.5" y2="545.1" stroke="#1c1c1c" stroke-width="0.9"/>
<polyline points="455.5,536 456.1,534.1 457.4,533.7 458.6,535 459.6,535 461.1,533.6 462.2,533.9 462.5,535.8 463.3,536.4 465.2,536 465.9,537 465.2,538.9 465.5,539.9 467.2,540.6 467.2,541.9 465.8,543.2 465.5,544.4 466.5,546 465.9,547.2 464.1,547.6 463.3,548.5 463.3,550.5 462.2,551.3 460.6,550.6 459.6,551 458.6,552.8 457.4,553 456.5,551.4 455.5,551.2 453.8,552.3 452.8,551.6 452.9,549.7 452.2,548.9 450.4,548.9 449.9,547.7 450.9,546 450.8,544.9" fill="none" stroke="#1c1c1c" stroke-width="0.9"/>
<line x1="451.5" y1="545.1" x2="454.3" y2="550.7" stroke="#1c1c1c" stroke-width="0.7"/>
<line x1="450.2" y1="544" x2="452.2" y2="548.8" stroke="#1c1c1c" stroke-width="0.7"/>
<line x1="449.5" y1="542.4" x2="451" y2="546.1" stroke="#1c1c1c" stroke-width="0.7"/>
<line x1="449.4" y1="540.5" x2="450.9" y2="542.9" stroke="#1c1c1c" stroke-width="0.7"/>
<line x1="450" y1="538.7" x2="451.9" y2="539.8" stroke="#1c1c1c" stroke-width="0.7"/>
<line x1="451.2" y1="537.2" x2="453.9" y2="537.2" stroke="#1c1c1c" stroke-width="0.7"/>
<line x1="452.8" y1="536.2" x2="456.6" y2="535.5" stroke="#1c1c1c" stroke-width="0.7"/>
<line x1="454.5" y1="535.9" x2="459.5" y2="535" stroke="#1c1c1c" stroke-width="0.7"/>
<line x1="456.1" y1="536.3" x2="462.3" y2="535.7" stroke="#1c1c1c" stroke-width="0.7"/>
<ellipse cx="453.8" cy="540.7" rx="4.2" ry="5" fill="#fff" stroke="#1c1c1c" stroke-width="0.9" transform="rotate(28 453.8 540.7)"/>
<ellipse cx="453.5" cy="540.5" rx="2" ry="2.4" fill="none" stroke="#1c1c1c" stroke-width="0.8" transform="rotate(28 453.5 540.5)"/>
<ellipse cx="419.9" cy="462" rx="9.6" ry="6.3" fill="#fff" stroke="#1c1c1c" stroke-width="0.9"/>
<ellipse cx="419.9" cy="460.7" rx="9.6" ry="6.3" fill="#fff" stroke="#1c1c1c" stroke-width="0.9"/>
<ellipse cx="419.9" cy="460.8" rx="3.3" ry="1.8" fill="none" stroke="#1c1c1c" stroke-width="0.8"/>
<ellipse cx="420.3" cy="580" rx="10.1" ry="6.2" fill="#fff" stroke="#1c1c1c" stroke-width="0.9"/>
<ellipse cx="420.3" cy="578.9" rx="10.1" ry="6.2" fill="#fff" stroke="#1c1c1c" stroke-width="0.9"/>
<ellipse cx="420.3" cy="579" rx="3.3" ry="1.8" fill="none" stroke="#1c1c1c" stroke-width="0.8"/>
<ellipse cx="368.8" cy="490.6" rx="7.1" ry="9.7" fill="#fff" stroke="#1c1c1c" stroke-width="0.9" transform="rotate(22 368.8 490.6)"/>
<ellipse cx="369.4" cy="491" rx="7.1" ry="9.7" fill="#fff" stroke="#1c1c1c" stroke-width="0.9" transform="rotate(22 369.4 491)"/>
<ellipse cx="369.8" cy="492.5" rx="2" ry="2.8" fill="none" stroke="#1c1c1c" stroke-width="0.8" transform="rotate(22 369.8 492.5)"/>
<ellipse cx="470.8" cy="550" rx="7.1" ry="9.7" fill="#fff" stroke="#1c1c1c" stroke-width="0.9" transform="rotate(22 470.8 550)"/>
<ellipse cx="471.4" cy="550.4" rx="7.1" ry="9.7" fill="#fff" stroke="#1c1c1c" stroke-width="0.9" transform="rotate(22 471.4 550.4)"/>
<ellipse cx="471.8" cy="551.9" rx="2" ry="2.8" fill="none" stroke="#1c1c1c" stroke-width="0.8" transform="rotate(22 471.8 551.9)"/>
<polygon points="572,480.7 558,490.3 560,493.1 574,483.5" fill="#fff" stroke="#1c1c1c" stroke-width="0.9"/>
<line x1="567.8" y1="483.6" x2="568.4" y2="487.3" stroke="#1c1c1c" stroke-width="0.95"/>
<line x1="566.5" y1="484.5" x2="567.1" y2="488.2" stroke="#1c1c1c" stroke-width="0.95"/>
<line x1="565.2" y1="485.4" x2="565.8" y2="489.1" stroke="#1c1c1c" stroke-width="0.95"/>
<line x1="563.9" y1="486.2" x2="564.6" y2="490" stroke="#1c1c1c" stroke-width="0.95"/>
<line x1="562.7" y1="487.1" x2="563.3" y2="490.8" stroke="#1c1c1c" stroke-width="0.95"/>
<line x1="561.4" y1="488" x2="562" y2="491.7" stroke="#1c1c1c" stroke-width="0.95"/>
<line x1="560.1" y1="488.9" x2="560.7" y2="492.6" stroke="#1c1c1c" stroke-width="0.95"/>
<ellipse cx="573" cy="482.1" rx="3.6" ry="4.5" fill="#fff" stroke="#1c1c1c" stroke-width="1.0" transform="rotate(20 573 482.1)"/>
<ellipse cx="573" cy="482.1" rx="2" ry="2.5" fill="none" stroke="#1c1c1c" stroke-width="0.7" transform="rotate(20 573 482.1)"/>
<ellipse cx="535.4" cy="504.2" rx="2.3" ry="3" fill="#fff" stroke="#1c1c1c" stroke-width="1.1" transform="rotate(20 535.4 504.2)"/>
<ellipse cx="535.5" cy="504.3" rx="1" ry="1.3" fill="none" stroke="#1c1c1c" stroke-width="0.8" transform="rotate(20 535.5 504.3)"/>
<polygon points="365.9,586.6 351.8,594.6 353.2,597.2 367.3,589.2" fill="#fff" stroke="#1c1c1c" stroke-width="0.9"/>
<line x1="360.9" y1="589.4" x2="361" y2="592.8" stroke="#1c1c1c" stroke-width="0.95"/>
<line x1="359.6" y1="590.1" x2="359.7" y2="593.5" stroke="#1c1c1c" stroke-width="0.95"/>
<line x1="358.3" y1="590.9" x2="358.4" y2="594.3" stroke="#1c1c1c" stroke-width="0.95"/>
<line x1="357" y1="591.6" x2="357.1" y2="595" stroke="#1c1c1c" stroke-width="0.95"/>
<line x1="355.7" y1="592.3" x2="355.8" y2="595.7" stroke="#1c1c1c" stroke-width="0.95"/>
<line x1="354.5" y1="593.1" x2="354.5" y2="596.5" stroke="#1c1c1c" stroke-width="0.95"/>
<line x1="353.2" y1="593.8" x2="353.2" y2="597.2" stroke="#1c1c1c" stroke-width="0.95"/>
<ellipse cx="366.6" cy="587.9" rx="2.9" ry="3.6" fill="#fff" stroke="#1c1c1c" stroke-width="1.0" transform="rotate(20 366.6 587.9)"/>
<ellipse cx="366.6" cy="587.9" rx="1.6" ry="2" fill="none" stroke="#1c1c1c" stroke-width="0.7" transform="rotate(20 366.6 587.9)"/>
<ellipse cx="305.4" cy="583.9" rx="26.7" ry="46" fill="#fff" stroke="#1c1c1c" stroke-width="0.9" transform="rotate(-31 305.4 583.9)"/>
<polygon points="281.7,544.4 274.8,548.6 322.2,627.4 329,623.3" fill="#fff" stroke="none"/>
<line x1="281.7" y1="544.4" x2="274.8" y2="548.6" stroke="#1c1c1c" stroke-width="0.9"/>
<line x1="329" y1="623.3" x2="322.2" y2="627.4" stroke="#1c1c1c" stroke-width="0.9"/>
<polyline points="281.7,544.5 280.4,540.8 281.1,540.5 283.6,543.5 284.2,543.2 283.2,539.6 283.9,539.4 286.3,542.6 287,542.5 286.2,538.9 287,538.8 289.2,542.2 289.9,542.2 289.5,538.7 290.3,538.7 292.3,542.2 293.1,542.3 292.9,539 293.8,539.1 295.5,542.7 296.3,542.9 296.5,539.7 297.4,540 298.8,543.6 299.7,543.9 300.1,541 301,541.4 302.2,545 303.1,545.4 303.8,542.7 304.8,543.2 305.7,546.8 306.5,547.3 307.6,544.9 308.5,545.5 309.1,549 310,549.6 311.3,547.5 312.2,548.2 312.5,551.6 313.4,552.3 314.9,550.5 315.8,551.3 315.8,554.5 316.7,555.3 318.5,553.8 319.3,554.7 319,557.8 319.8,558.6 321.9,557.5 322.7,558.5 322.1,561.3 322.8,562.3 325.1,561.5 325.8,562.5 325,565.1 325.7,566.1 328.1,565.7 328.8,566.8 327.6,569.1 328.3,570.2 330.8,570.1 331.5,571.3 330.1,573.3 330.6,574.4 333.3,574.7 333.9,575.9 332.2,577.6 332.7,578.7 335.5,579.4 336,580.6 334.1,581.9 334.5,583 337.3,584.1 337.7,585.3 335.6,586.3 335.9,587.4 338.8,588.9 339.1,590 336.8,590.6 337.1,591.7 339.9,593.5 340.1,594.7 337.7,594.9 337.8,596 340.7,598.1 340.8,599.2 338.2,599.1 338.2,600.1 341,602.5 341,603.6 338.3,603 338.3,604 341,606.7 340.9,607.7 338.1,606.8 338,607.7 340.6,610.7 340.4,611.6 337.5,610.3 337.4,611.2 339.8,614.3 339.5,615.2 336.6,613.6 336.3,614.3 338.6,617.6 338.2,618.4 335.4,616.5 335,617.2 337,620.6 336.6,621.3 333.8,619 333.3,619.6 335.1,623.2 334.6,623.7 331.9,621.2 331.4,621.7 332.9,625.3 332.3,625.7 329.7,623 329.1,623.3" fill="none" stroke="#1c1c1c" stroke-width="1.0"/>
<ellipse cx="298.5" cy="588" rx="26.7" ry="46" fill="#fff" stroke="#1c1c1c" stroke-width="0.9" transform="rotate(-31 298.5 588)"/>
<ellipse cx="314.7" cy="581.8" rx="1.2" ry="1.6" fill="#fff" stroke="#1c1c1c" stroke-width="0.9" transform="rotate(-31 314.7 581.8)"/>
<ellipse cx="319.8" cy="593" rx="1.2" ry="1.6" fill="#fff" stroke="#1c1c1c" stroke-width="0.9" transform="rotate(-31 319.8 593)"/>
<ellipse cx="321.7" cy="604" rx="1.2" ry="1.6" fill="#fff" stroke="#1c1c1c" stroke-width="0.9" transform="rotate(-31 321.7 604)"/>
<ellipse cx="320.1" cy="613.1" rx="1.2" ry="1.6" fill="#fff" stroke="#1c1c1c" stroke-width="0.9" transform="rotate(-31 320.1 613.1)"/>
<ellipse cx="315.2" cy="618.9" rx="1.2" ry="1.6" fill="#fff" stroke="#1c1c1c" stroke-width="0.9" transform="rotate(-31 315.2 618.9)"/>
<ellipse cx="307.8" cy="620.5" rx="1.2" ry="1.6" fill="#fff" stroke="#1c1c1c" stroke-width="0.9" transform="rotate(-31 307.8 620.5)"/>
<ellipse cx="299.1" cy="617.7" rx="1.2" ry="1.6" fill="#fff" stroke="#1c1c1c" stroke-width="0.9" transform="rotate(-31 299.1 617.7)"/>
<ellipse cx="290.2" cy="610.8" rx="1.2" ry="1.6" fill="#fff" stroke="#1c1c1c" stroke-width="0.9" transform="rotate(-31 290.2 610.8)"/>
<ellipse cx="282.7" cy="601" rx="1.2" ry="1.6" fill="#fff" stroke="#1c1c1c" stroke-width="0.9" transform="rotate(-31 282.7 601)"/>
<ellipse cx="277.6" cy="589.8" rx="1.2" ry="1.6" fill="#fff" stroke="#1c1c1c" stroke-width="0.9" transform="rotate(-31 277.6 589.8)"/>
<ellipse cx="275.7" cy="578.8" rx="1.2" ry="1.6" fill="#fff" stroke="#1c1c1c" stroke-width="0.9" transform="rotate(-31 275.7 578.8)"/>
<ellipse cx="277.3" cy="569.7" rx="1.2" ry="1.6" fill="#fff" stroke="#1c1c1c" stroke-width="0.9" transform="rotate(-31 277.3 569.7)"/>
<ellipse cx="282.2" cy="563.9" rx="1.2" ry="1.6" fill="#fff" stroke="#1c1c1c" stroke-width="0.9" transform="rotate(-31 282.2 563.9)"/>
<ellipse cx="289.6" cy="562.3" rx="1.2" ry="1.6" fill="#fff" stroke="#1c1c1c" stroke-width="0.9" transform="rotate(-31 289.6 562.3)"/>
<ellipse cx="298.3" cy="565.1" rx="1.2" ry="1.6" fill="#fff" stroke="#1c1c1c" stroke-width="0.9" transform="rotate(-31 298.3 565.1)"/>
<ellipse cx="307.2" cy="572" rx="1.2" ry="1.6" fill="#fff" stroke="#1c1c1c" stroke-width="0.9" transform="rotate(-31 307.2 572)"/>
<ellipse cx="298.2" cy="591.9" rx="13" ry="24.3" fill="#fff" stroke="#1c1c1c" stroke-width="1.0" transform="rotate(-31 298.2 591.9)"/>
<ellipse cx="299.6" cy="591.2" rx="12.2" ry="23" fill="none" stroke="#1c1c1c" stroke-width="0.7" transform="rotate(-31 299.6 591.2)"/>
<ellipse cx="252.1" cy="617" rx="20.4" ry="38.5" fill="#fff" stroke="#1c1c1c" stroke-width="0.9" transform="rotate(-30 252.1 617)"/>
<polygon points="232.8,583.7 229.3,585.7 267.8,652.3 271.3,650.3" fill="#fff" stroke="none"/>
<line x1="232.8" y1="583.7" x2="229.3" y2="585.7" stroke="#1c1c1c" stroke-width="0.9"/>
<line x1="271.3" y1="650.3" x2="267.8" y2="652.3" stroke="#1c1c1c" stroke-width="0.9"/>
<ellipse cx="248.6" cy="619" rx="20.4" ry="38.5" fill="#fff" stroke="#1c1c1c" stroke-width="0.9" transform="rotate(-30 248.6 619)"/>
<ellipse cx="248.6" cy="619" rx="18.8" ry="35.5" fill="none" stroke="#1c1c1c" stroke-width="0.7" transform="rotate(-30 248.6 619)"/>
<line x1="255.8" y1="616.6" x2="266" y2="613.3" stroke="#1c1c1c" stroke-width="0.95"/>
<line x1="257.8" y1="622.3" x2="270.8" y2="627" stroke="#1c1c1c" stroke-width="0.95"/>
<line x1="257.9" y1="627.3" x2="271.3" y2="639.1" stroke="#1c1c1c" stroke-width="0.95"/>
<line x1="256.3" y1="630.6" x2="267.3" y2="647.2" stroke="#1c1c1c" stroke-width="0.95"/>
<line x1="253.1" y1="631.7" x2="259.5" y2="649.8" stroke="#1c1c1c" stroke-width="0.95"/>
<line x1="249" y1="630.2" x2="249.6" y2="646.2" stroke="#1c1c1c" stroke-width="0.95"/>
<line x1="244.9" y1="626.5" x2="239.5" y2="637.3" stroke="#1c1c1c" stroke-width="0.95"/>
<line x1="241.4" y1="621.4" x2="231.2" y2="624.7" stroke="#1c1c1c" stroke-width="0.95"/>
<line x1="239.4" y1="615.7" x2="226.4" y2="611" stroke="#1c1c1c" stroke-width="0.95"/>
<line x1="239.3" y1="610.7" x2="225.9" y2="598.9" stroke="#1c1c1c" stroke-width="0.95"/>
<line x1="240.9" y1="607.4" x2="229.9" y2="590.8" stroke="#1c1c1c" stroke-width="0.95"/>
<line x1="244.1" y1="606.3" x2="237.7" y2="588.2" stroke="#1c1c1c" stroke-width="0.95"/>
<line x1="248.2" y1="607.8" x2="247.6" y2="591.8" stroke="#1c1c1c" stroke-width="0.95"/>
<line x1="252.3" y1="611.5" x2="257.7" y2="600.7" stroke="#1c1c1c" stroke-width="0.95"/>
<line x1="256.3" y1="617.9" x2="267.4" y2="616.3" stroke="#1c1c1c" stroke-width="0.95"/>
<line x1="258" y1="623.5" x2="271.3" y2="629.9" stroke="#1c1c1c" stroke-width="0.95"/>
<line x1="257.7" y1="628.2" x2="270.8" y2="641.3" stroke="#1c1c1c" stroke-width="0.95"/>
<line x1="255.7" y1="631.1" x2="265.8" y2="648.3" stroke="#1c1c1c" stroke-width="0.95"/>
<line x1="252.2" y1="631.6" x2="257.5" y2="649.5" stroke="#1c1c1c" stroke-width="0.95"/>
<line x1="248.1" y1="629.6" x2="247.3" y2="644.7" stroke="#1c1c1c" stroke-width="0.95"/>
<line x1="244" y1="625.5" x2="237.5" y2="634.7" stroke="#1c1c1c" stroke-width="0.95"/>
<line x1="240.9" y1="620.1" x2="229.8" y2="621.7" stroke="#1c1c1c" stroke-width="0.95"/>
<line x1="239.2" y1="614.5" x2="225.9" y2="608.1" stroke="#1c1c1c" stroke-width="0.95"/>
<line x1="239.5" y1="609.8" x2="226.4" y2="596.7" stroke="#1c1c1c" stroke-width="0.95"/>
<line x1="241.5" y1="606.9" x2="231.4" y2="589.7" stroke="#1c1c1c" stroke-width="0.95"/>
<line x1="245" y1="606.4" x2="239.7" y2="588.5" stroke="#1c1c1c" stroke-width="0.95"/>
<line x1="249.1" y1="608.4" x2="249.9" y2="593.3" stroke="#1c1c1c" stroke-width="0.95"/>
<line x1="253.2" y1="612.5" x2="259.7" y2="603.3" stroke="#1c1c1c" stroke-width="0.95"/>
<ellipse cx="267.1" cy="621.8" rx="1.4" ry="1.8" fill="#fff" stroke="#1c1c1c" stroke-width="0.9" transform="rotate(-30 267.1 621.8)"/>
<ellipse cx="268.9" cy="634.9" rx="1.4" ry="1.8" fill="#fff" stroke="#1c1c1c" stroke-width="0.9" transform="rotate(-30 268.9 634.9)"/>
<ellipse cx="265.2" cy="643.8" rx="1.4" ry="1.8" fill="#fff" stroke="#1c1c1c" stroke-width="0.9" transform="rotate(-30 265.2 643.8)"/>
<ellipse cx="257.1" cy="646" rx="1.4" ry="1.8" fill="#fff" stroke="#1c1c1c" stroke-width="0.9" transform="rotate(-30 257.1 646)"/>
<ellipse cx="246.7" cy="641" rx="1.4" ry="1.8" fill="#fff" stroke="#1c1c1c" stroke-width="0.9" transform="rotate(-30 246.7 641)"/>
<ellipse cx="236.8" cy="630.1" rx="1.4" ry="1.8" fill="#fff" stroke="#1c1c1c" stroke-width="0.9" transform="rotate(-30 236.8 630.1)"/>
<ellipse cx="230.1" cy="616.2" rx="1.4" ry="1.8" fill="#fff" stroke="#1c1c1c" stroke-width="0.9" transform="rotate(-30 230.1 616.2)"/>
<ellipse cx="228.3" cy="603.1" rx="1.4" ry="1.8" fill="#fff" stroke="#1c1c1c" stroke-width="0.9" transform="rotate(-30 228.3 603.1)"/>
<ellipse cx="232" cy="594.2" rx="1.4" ry="1.8" fill="#fff" stroke="#1c1c1c" stroke-width="0.9" transform="rotate(-30 232 594.2)"/>
<ellipse cx="240.1" cy="592" rx="1.4" ry="1.8" fill="#fff" stroke="#1c1c1c" stroke-width="0.9" transform="rotate(-30 240.1 592)"/>
<ellipse cx="250.5" cy="597" rx="1.4" ry="1.8" fill="#fff" stroke="#1c1c1c" stroke-width="0.9" transform="rotate(-30 250.5 597)"/>
<ellipse cx="260.4" cy="607.9" rx="1.4" ry="1.8" fill="#fff" stroke="#1c1c1c" stroke-width="0.9" transform="rotate(-30 260.4 607.9)"/>
<ellipse cx="257.8" cy="613.7" rx="1" ry="1.4" fill="#fff" stroke="#1c1c1c" stroke-width="0.8" transform="rotate(-30 257.8 613.7)"/>
<ellipse cx="261.9" cy="624.9" rx="1" ry="1.4" fill="#fff" stroke="#1c1c1c" stroke-width="0.8" transform="rotate(-30 261.9 624.9)"/>
<ellipse cx="260.9" cy="633.8" rx="1" ry="1.4" fill="#fff" stroke="#1c1c1c" stroke-width="0.8" transform="rotate(-30 260.9 633.8)"/>
<ellipse cx="255.3" cy="637.1" rx="1" ry="1.4" fill="#fff" stroke="#1c1c1c" stroke-width="0.8" transform="rotate(-30 255.3 637.1)"/>
<ellipse cx="247.1" cy="633.5" rx="1" ry="1.4" fill="#fff" stroke="#1c1c1c" stroke-width="0.8" transform="rotate(-30 247.1 633.5)"/>
<ellipse cx="239.4" cy="624.3" rx="1" ry="1.4" fill="#fff" stroke="#1c1c1c" stroke-width="0.8" transform="rotate(-30 239.4 624.3)"/>
<ellipse cx="235.3" cy="613.1" rx="1" ry="1.4" fill="#fff" stroke="#1c1c1c" stroke-width="0.8" transform="rotate(-30 235.3 613.1)"/>
<ellipse cx="236.3" cy="604.2" rx="1" ry="1.4" fill="#fff" stroke="#1c1c1c" stroke-width="0.8" transform="rotate(-30 236.3 604.2)"/>
<ellipse cx="241.9" cy="600.9" rx="1" ry="1.4" fill="#fff" stroke="#1c1c1c" stroke-width="0.8" transform="rotate(-30 241.9 600.9)"/>
<ellipse cx="250.1" cy="604.5" rx="1" ry="1.4" fill="#fff" stroke="#1c1c1c" stroke-width="0.8" transform="rotate(-30 250.1 604.5)"/>
<ellipse cx="248.6" cy="619" rx="8" ry="15" fill="none" stroke="#1c1c1c" stroke-width="0.7" transform="rotate(-30 248.6 619)"/>
<ellipse cx="243.5" cy="624.8" rx="7.4" ry="12" fill="#fff" stroke="#1c1c1c" stroke-width="0.9" transform="rotate(-30 243.5 624.8)"/>
<polygon points="237.5,614.4 234,616.4 246,637.2 249.5,635.2" fill="#fff" stroke="none"/>
<line x1="237.5" y1="614.4" x2="234" y2="616.4" stroke="#1c1c1c" stroke-width="0.9"/>
<line x1="249.5" y1="635.2" x2="246" y2="637.2" stroke="#1c1c1c" stroke-width="0.9"/>
<ellipse cx="240" cy="626.8" rx="7.4" ry="12" fill="#fff" stroke="#1c1c1c" stroke-width="0.9" transform="rotate(-30 240 626.8)"/>
<ellipse cx="239.3" cy="627.3" rx="8" ry="8.1" fill="none" stroke="#1c1c1c" stroke-width="0.0" transform="rotate(-30 239.3 627.3)"/>
<polyline points="245.8,630.5 245.7,631.3 245.6,632.1 245.3,632.7 245,633.3 244.6,633.8 244.2,634.3 243.6,634.6 243,634.8 242.4,634.9 241.7,634.9 241,634.8 240.3,634.6 239.6,634.3 238.9,633.9 238.1,633.4 237.4,632.8 236.8,632.1 236.1,631.4 235.6,630.6 235,629.7 234.6,628.9 234.2,628 233.9,627 233.6,626.1 233.4,625.2 233.4,624.4 233.4,623.5 233.5,622.7 233.6,622 233.9,621.3 234.2,620.8 234.7,620.3 235.1,619.9 235.7,619.6 236.3,619.4 236.9,619.3 237.6,619.3 238.3,619.4 239,619.7 239.7,620" fill="none" stroke="#1c1c1c" stroke-width="0.9"/>
<ellipse cx="219" cy="637.5" rx="8.4" ry="16.8" fill="#fff" stroke="#1c1c1c" stroke-width="0.9" transform="rotate(-27 219 637.5)"/>
<polygon points="199.8,632.3 209.9,625.2 208.2,622.7 198.1,629.8" fill="#fff" stroke="#1c1c1c" stroke-width="0.85"/>
<polygon points="202.5,630.3 213.3,622.8 211.6,620.3 200.8,627.8" fill="#fff" stroke="#1c1c1c" stroke-width="0.85"/>
<polygon points="206.5,631.3 218,623.9 216.4,621.4 204.8,628.8" fill="#fff" stroke="#1c1c1c" stroke-width="0.85"/>
<polygon points="210.8,635.2 223.1,628.2 221.6,625.6 209.3,632.6" fill="#fff" stroke="#1c1c1c" stroke-width="0.85"/>
<polygon points="214.6,641.1 227.4,634.9 226.1,632.2 213.3,638.4" fill="#fff" stroke="#1c1c1c" stroke-width="0.85"/>
<polygon points="216.9,647.7 230.1,642.4 228.9,639.6 215.8,644.9" fill="#fff" stroke="#1c1c1c" stroke-width="0.85"/>
<polygon points="217.4,653.5 230.4,649.1 229.5,646.3 216.4,650.7" fill="#fff" stroke="#1c1c1c" stroke-width="0.85"/>
<polygon points="215.8,657.4 228.4,653.6 227.6,650.8 214.9,654.5" fill="#fff" stroke="#1c1c1c" stroke-width="0.85"/>
<polygon points="212.5,658.4 224.5,654.9 223.7,652 211.7,655.5" fill="#fff" stroke="#1c1c1c" stroke-width="0.85"/>
<ellipse cx="207.5" cy="643" rx="7.5" ry="16" fill="#fff" stroke="#1c1c1c" stroke-width="0.9" transform="rotate(-27 207.5 643)"/>
<ellipse cx="207.6" cy="643" rx="6.8" ry="14.5" fill="none" stroke="#1c1c1c" stroke-width="0.7" transform="rotate(-27 207.6 643)"/>
<polyline points="200.2,640.1 199.9,638.7 199.8,637.3 199.8,636.1 199.9,634.9 200.2,634 200.6,633.1 201.1,632.5 201.8,632 202.5,631.7 203.3,631.6 204.2,631.8 205.1,632.1 206.1,632.6 207.1,633.3 208.2,634.2 209.2,635.2 210.1,636.3 211.1,637.6 211.9,639 212.7,640.4 213.4,641.9 214,643.4 214.5,644.9 214.9,646.4 215.1,647.8 215.2,649.2 215.2,650.4 215,651.5 214.7,652.4 214.3,653.2 213.8,653.8 213.1,654.3 212.4,654.5 211.5,654.5 210.6,654.4 209.7,654 208.7,653.5 207.6,652.7 206.6,651.8 205.6,650.8" fill="none" stroke="#1c1c1c" stroke-width="0.9"/>
<ellipse cx="188.5" cy="657" rx="11.6" ry="20.8" fill="#fff" stroke="#1c1c1c" stroke-width="0.9" transform="rotate(-30 188.5 657)"/>
<polygon points="178.1,639 172.6,640.5 193.4,676.5 198.9,675" fill="#fff" stroke="none"/>
<line x1="178.1" y1="639" x2="172.6" y2="640.5" stroke="#1c1c1c" stroke-width="0.9"/>
<line x1="198.9" y1="675" x2="193.4" y2="676.5" stroke="#1c1c1c" stroke-width="0.9"/>
<ellipse cx="183" cy="658.5" rx="11.6" ry="20.8" fill="#fff" stroke="#1c1c1c" stroke-width="0.9" transform="rotate(-30 183 658.5)"/>
<ellipse cx="183.3" cy="658.4" rx="10.8" ry="19.2" fill="none" stroke="#1c1c1c" stroke-width="0.7" transform="rotate(-30 183.3 658.4)"/>
<polyline points="171.4,655.5 171,653.5 170.8,651.6 170.9,649.7 171.1,648.1 171.6,646.6 172.3,645.3 173.1,644.2 174.1,643.4 175.3,642.9 176.6,642.6 178,642.6 179.6,642.9 181.1,643.4 182.7,644.3 184.3,645.3 185.9,646.6 187.5,648.1 188.9,649.8 190.3,651.6 191.5,653.6 192.6,655.6 193.5,657.7 194.2,659.8 194.7,661.9 195.1,663.9 195.2,665.9 195.1,667.6 194.8,669.3 194.3,670.7 193.6,672 192.7,673 191.6,673.7 190.4,674.2 189.1,674.4 187.6,674.4 186.1,674 184.5,673.4 182.9,672.5 181.3,671.4 179.7,670.1" fill="none" stroke="#1c1c1c" stroke-width="0.9"/>
<ellipse cx="243.3" cy="659" rx="2" ry="2.6" fill="#fff" stroke="#1c1c1c" stroke-width="1.1" transform="rotate(20 243.3 659)"/>
<ellipse cx="243.4" cy="659.1" rx="0.9" ry="1.1" fill="none" stroke="#1c1c1c" stroke-width="0.8" transform="rotate(20 243.4 659.1)"/>
<ellipse cx="219.2" cy="673.3" rx="3.2" ry="3.8" fill="#fff" stroke="#1c1c1c" stroke-width="1.1" transform="rotate(20 219.2 673.3)"/>
<polyline points="220.8,675.5 218.1,676.2 216.6,674 217.6,671.1 220.3,670.4 221.8,672.6 220.8,675.5" fill="none" stroke="#1c1c1c" stroke-width="0.8"/>
<ellipse cx="219.3" cy="673.4" rx="1.3" ry="1.6" fill="none" stroke="#1c1c1c" stroke-width="0.8" transform="rotate(20 219.3 673.4)"/>
<clipPath id="c1"><ellipse cx="183" cy="658.5" rx="9.5" ry="17" transform="rotate(-30 183 658.5)"/></clipPath>
<polyline points="600,419 578,432.4 547.3,447.1 513,467.2 481.5,485.6 453.1,501.5 419.9,519.9 383.4,539.8 355.4,557.5 298.4,590.3 248.5,616.6 213.8,640.1 184.3,658.5 150,680" fill="none" stroke="#1c1c1c" stroke-width="0.9" stroke-dasharray="14 3.2 6 3.2" clip-path="url(#c1)"/>
<clipPath id="c2"><ellipse cx="207.5" cy="643.1" rx="5.6" ry="12" transform="rotate(-27 207.5 643.1)"/></clipPath>
<polyline points="600,419 578,432.4 547.3,447.1 513,467.2 481.5,485.6 453.1,501.5 419.9,519.9 383.4,539.8 355.4,557.5 298.4,590.3 248.5,616.6 213.8,640.1 184.3,658.5 150,680" fill="none" stroke="#1c1c1c" stroke-width="0.9" stroke-dasharray="14 3.2 6 3.2" clip-path="url(#c2)"/>
<clipPath id="c3"><ellipse cx="298.2" cy="591.9" rx="12.5" ry="23.8" transform="rotate(-31 298.2 591.9)"/></clipPath>
<polyline points="600,419 578,432.4 547.3,447.1 513,467.2 481.5,485.6 453.1,501.5 419.9,519.9 383.4,539.8 355.4,557.5 298.4,590.3 248.5,616.6 213.8,640.1 184.3,658.5 150,680" fill="none" stroke="#1c1c1c" stroke-width="0.9" stroke-dasharray="14 3.2 6 3.2" clip-path="url(#c3)"/>
<clipPath id="c4"><ellipse cx="353.6" cy="559" rx="6.7" ry="10" transform="rotate(-30 353.6 559)"/></clipPath>
<polyline points="600,419 578,432.4 547.3,447.1 513,467.2 481.5,485.6 453.1,501.5 419.9,519.9 383.4,539.8 355.4,557.5 298.4,590.3 248.5,616.6 213.8,640.1 184.3,658.5 150,680" fill="none" stroke="#1c1c1c" stroke-width="0.9" stroke-dasharray="14 3.2 6 3.2" clip-path="url(#c4)"/>
<clipPath id="c5"><ellipse cx="481.3" cy="485.1" rx="6.6" ry="9" transform="rotate(-30 481.3 485.1)"/></clipPath>
<polyline points="600,419 578,432.4 547.3,447.1 513,467.2 481.5,485.6 453.1,501.5 419.9,519.9 383.4,539.8 355.4,557.5 298.4,590.3 248.5,616.6 213.8,640.1 184.3,658.5 150,680" fill="none" stroke="#1c1c1c" stroke-width="0.9" stroke-dasharray="14 3.2 6 3.2" clip-path="url(#c5)"/>
<clipPath id="c6"><ellipse cx="571.5" cy="434" rx="8.2" ry="12.5" transform="rotate(-30 571.5 434)"/></clipPath>
<polyline points="600,419 578,432.4 547.3,447.1 513,467.2 481.5,485.6 453.1,501.5 419.9,519.9 383.4,539.8 355.4,557.5 298.4,590.3 248.5,616.6 213.8,640.1 184.3,658.5 150,680" fill="none" stroke="#1c1c1c" stroke-width="0.9" stroke-dasharray="14 3.2 6 3.2" clip-path="url(#c6)"/>
<clipPath id="c7"><ellipse cx="541.6" cy="449.7" rx="7.2" ry="10" transform="rotate(-30 541.6 449.7)"/></clipPath>
<polyline points="600,419 578,432.4 547.3,447.1 513,467.2 481.5,485.6 453.1,501.5 419.9,519.9 383.4,539.8 355.4,557.5 298.4,590.3 248.5,616.6 213.8,640.1 184.3,658.5 150,680" fill="none" stroke="#1c1c1c" stroke-width="0.9" stroke-dasharray="14 3.2 6 3.2" clip-path="url(#c7)"/>
<clipPath id="c8"><ellipse cx="96.6" cy="185.1" rx="8" ry="13.3" transform="rotate(31 96.6 185.1)"/></clipPath>
<polyline points="59.8,163.6 71.6,169.5 96.6,185.1 124.7,200.9 152.7,215.9 172.4,227.7 192,238 212.2,252.1" fill="none" stroke="#1c1c1c" stroke-width="0.9" stroke-dasharray="14 3.2 6 3.2" clip-path="url(#c8)"/>
<clipPath id="c9"><ellipse cx="124.7" cy="200.9" rx="8.4" ry="14" transform="rotate(31 124.7 200.9)"/></clipPath>
<polyline points="59.8,163.6 71.6,169.5 96.6,185.1 124.7,200.9 152.7,215.9 172.4,227.7 192,238 212.2,252.1" fill="none" stroke="#1c1c1c" stroke-width="0.9" stroke-dasharray="14 3.2 6 3.2" clip-path="url(#c9)"/>
<clipPath id="c10"><ellipse cx="152.7" cy="215.9" rx="8.4" ry="14" transform="rotate(31 152.7 215.9)"/></clipPath>
<polyline points="59.8,163.6 71.6,169.5 96.6,185.1 124.7,200.9 152.7,215.9 172.4,227.7 192,238 212.2,252.1" fill="none" stroke="#1c1c1c" stroke-width="0.9" stroke-dasharray="14 3.2 6 3.2" clip-path="url(#c10)"/>
<clipPath id="c11"><ellipse cx="192" cy="238" rx="6.2" ry="10.3" transform="rotate(31 192 238)"/></clipPath>
<polyline points="59.8,163.6 71.6,169.5 96.6,185.1 124.7,200.9 152.7,215.9 172.4,227.7 192,238 212.2,252.1" fill="none" stroke="#1c1c1c" stroke-width="0.9" stroke-dasharray="14 3.2 6 3.2" clip-path="url(#c11)"/>
<clipPath id="c12"><ellipse cx="212.2" cy="252.1" rx="4.7" ry="7.3" transform="rotate(31 212.2 252.1)"/></clipPath>
<polyline points="59.8,163.6 71.6,169.5 96.6,185.1 124.7,200.9 152.7,215.9 172.4,227.7 192,238 212.2,252.1" fill="none" stroke="#1c1c1c" stroke-width="0.9" stroke-dasharray="14 3.2 6 3.2" clip-path="url(#c12)"/>
<clipPath id="c13"><ellipse cx="245.5" cy="214.7" rx="4.6" ry="7.2" transform="rotate(31 245.5 214.7)"/></clipPath>
<polyline points="180.5,177.5 205,190.5 226.3,203.5 244.4,214.1 268.8,228.4" fill="none" stroke="#1c1c1c" stroke-width="0.9" stroke-dasharray="14 3.2 6 3.2" clip-path="url(#c13)"/>
<clipPath id="c14"><ellipse cx="228" cy="204.5" rx="3.9" ry="5.9" transform="rotate(31 228 204.5)"/></clipPath>
<polyline points="180.5,177.5 205,190.5 226.3,203.5 244.4,214.1 268.8,228.4" fill="none" stroke="#1c1c1c" stroke-width="0.9" stroke-dasharray="14 3.2 6 3.2" clip-path="url(#c14)"/>
<clipPath id="c15"><ellipse cx="278.5" cy="289.7" rx="4.6" ry="6.9" transform="rotate(31 278.5 289.7)"/></clipPath>
<polyline points="264,281 276.7,288.9 295.2,299.4 306.9,307.4" fill="none" stroke="#1c1c1c" stroke-width="0.9" stroke-dasharray="14 3.2 6 3.2" clip-path="url(#c15)"/>
<clipPath id="c16"><ellipse cx="296" cy="299.9" rx="3" ry="4.4" transform="rotate(31 296 299.9)"/></clipPath>
<polyline points="264,281 276.7,288.9 295.2,299.4 306.9,307.4" fill="none" stroke="#1c1c1c" stroke-width="0.9" stroke-dasharray="14 3.2 6 3.2" clip-path="url(#c16)"/>
<clipPath id="c17"><ellipse cx="349.8" cy="316.6" rx="20.6" ry="34.8" transform="rotate(30 349.8 316.6)"/></clipPath>
<polyline points="338.2,317 478.4,393.9" fill="none" stroke="#1c1c1c" stroke-width="0.9" stroke-dasharray="14 3.2 6 3.2" clip-path="url(#c17)"/>
<clipPath id="c18"><ellipse cx="349.8" cy="316.6" rx="20.6" ry="34.8" transform="rotate(30 349.8 316.6)"/></clipPath>
<polyline points="366.9,299 434.3,338.3" fill="none" stroke="#1c1c1c" stroke-width="0.9" stroke-dasharray="14 3.2 6 3.2" clip-path="url(#c18)"/>
<clipPath id="c19"><ellipse cx="349.8" cy="316.6" rx="20.6" ry="34.8" transform="rotate(30 349.8 316.6)"/></clipPath>
<polyline points="306.9,307.4 340,325" fill="none" stroke="#1c1c1c" stroke-width="0.9" stroke-dasharray="14 3.2 6 3.2" clip-path="url(#c19)"/>
<polyline points="121.2,103.4 112.6,130.4" fill="none" stroke="#000" stroke-width="1.5"/>
<polyline points="137.2,119.3 131.1,142.1" fill="none" stroke="#000" stroke-width="1.5"/>
<polyline points="32,123.5 22.6,151" fill="none" stroke="#000" stroke-width="1.5"/>
<polyline points="60,139.2 50.2,167.7" fill="none" stroke="#000" stroke-width="1.5"/>
<polyline points="214.8,155.8 209.2,179.2" fill="none" stroke="#000" stroke-width="1.5"/>
<polyline points="238.2,171.8 232,194.4" fill="none" stroke="#000" stroke-width="1.5"/>
<polyline points="256.6,179.2 250,205" fill="none" stroke="#000" stroke-width="1.5"/>
<polyline points="65.6,216.7 71.5,190.2" fill="none" stroke="#000" stroke-width="1.5"/>
<polyline points="115.6,221 109.8,250.5 140.2,233.3" fill="none" stroke="#000" stroke-width="1.5"/>
<polyline points="163.1,252.1 168,233.3" fill="none" stroke="#000" stroke-width="1.5"/>
<polyline points="180.8,273.1 184.8,252.5" fill="none" stroke="#000" stroke-width="1.5"/>
<polyline points="201.5,290.8 208.4,264.3" fill="none" stroke="#000" stroke-width="1.5"/>
<polyline points="234.5,303 241.2,277" fill="none" stroke="#000" stroke-width="1.5"/>
<polyline points="290.5,251.6 282,280.1" fill="none" stroke="#000" stroke-width="1.5"/>
<polyline points="284.6,328.3 290.5,303.7" fill="none" stroke="#000" stroke-width="1.5"/>
<polyline points="355.4,253.5 347.5,282" fill="none" stroke="#000" stroke-width="1.5"/>
<polyline points="396.4,340.7 411.2,301.5 413.1,319" fill="none" stroke="#000" stroke-width="1.5"/>
<polyline points="399.3,211.5 411.1,241.6" fill="none" stroke="#000" stroke-width="1.5"/>
<polyline points="461,254.8 450.5,224.6" fill="none" stroke="#000" stroke-width="1.5"/>
<polyline points="482.1,165.4 492.3,194.9" fill="none" stroke="#000" stroke-width="1.5"/>
<polyline points="488.5,308 466.2,310.6" fill="none" stroke="#000" stroke-width="1.5"/>
<polyline points="204.1,357 214.4,386.6" fill="none" stroke="#000" stroke-width="1.5"/>
<polyline points="239,412.4 229.2,381.6" fill="none" stroke="#000" stroke-width="1.5"/>
<polyline points="307.9,418.5 314,396.4" fill="none" stroke="#000" stroke-width="1.5"/>
<polyline points="345.2,414.3 351,389" fill="none" stroke="#000" stroke-width="1.5"/>
<polyline points="380.8,429.2 387.7,403.2" fill="none" stroke="#000" stroke-width="1.5"/>
<polyline points="418.7,391.3 413,414.3" fill="none" stroke="#000" stroke-width="1.5"/>
<polyline points="559.6,384.4 569.4,415.2" fill="none" stroke="#000" stroke-width="1.5"/>
<polyline points="532.5,410.2 539.9,432.4" fill="none" stroke="#000" stroke-width="1.5"/>
<polyline points="494.4,425 501.8,444.7" fill="none" stroke="#000" stroke-width="1.5"/>
<polyline points="394.1,480.6 403.7,509.9" fill="none" stroke="#000" stroke-width="1.5"/>
<polyline points="451.9,467 461.7,489.2" fill="none" stroke="#000" stroke-width="1.5"/>
<polyline points="577.4,509.4 569.3,487.3" fill="none" stroke="#000" stroke-width="1.5"/>
<polyline points="544.4,530.2 536.6,504" fill="none" stroke="#000" stroke-width="1.5"/>
<polyline points="340,526.6 345.1,545.7" fill="none" stroke="#000" stroke-width="1.5"/>
<polyline points="495.9,521 489.3,498.7" fill="none" stroke="#000" stroke-width="1.5"/>
<polyline points="389.3,573.8 382,554.6" fill="none" stroke="#000" stroke-width="1.5"/>
<polyline points="479.3,578.2 470.5,559" fill="none" stroke="#000" stroke-width="1.5"/>
<polyline points="427.7,567.3 451.3,595.9 455.7,551.6" fill="none" stroke="#000" stroke-width="1.5"/>
<polyline points="368.7,609.2 365.7,591.5" fill="none" stroke="#000" stroke-width="1.5"/>
<polyline points="226.2,568 232.8,586.4" fill="none" stroke="#000" stroke-width="1.5"/>
<polyline points="192.9,595.8 203.9,625.3" fill="none" stroke="#000" stroke-width="1.5"/>
<polyline points="167.5,620.4 174.4,641.3" fill="none" stroke="#000" stroke-width="1.5"/>
<polyline points="328.5,650.7 322,633.6" fill="none" stroke="#000" stroke-width="1.5"/>
<polyline points="253.6,684.3 245.2,662.2" fill="none" stroke="#000" stroke-width="1.5"/>
<polyline points="232.2,705.2 221.1,675.7" fill="none" stroke="#000" stroke-width="1.5"/>
<path d="M125.00,100.05 L123.78,100.05 L123.78,91.05 C123.38,91.36 122.95,91.63 122.42,91.92 C121.88,92.21 121.41,92.42 121.00,92.56 L121.00,91.41 C121.75,90.99 122.40,90.54 122.97,90.01 C123.54,89.48 123.93,88.98 124.16,88.55 L125.05,88.55 Z" fill="#000" stroke="#000" stroke-width="0.12"/>
<text transform="translate(135.39 116.15) scale(1 1.05)" font-size="15.3" stroke="#000" stroke-width="0.12">2</text>
<text transform="translate(29.19 120.00) scale(1 1.05)" font-size="15.3" stroke="#000" stroke-width="0.12">8</text>
<text transform="translate(57.19 136.90) scale(1 1.05)" font-size="15.3" stroke="#000" stroke-width="0.12">9</text>
<text transform="translate(212.94 153.65) scale(1 1.05)" font-size="15.3" stroke="#000" stroke-width="0.12">5</text>
<text transform="translate(236.09 169.45) scale(1 1.05)" font-size="15.3" stroke="#000" stroke-width="0.12">6</text>
<text transform="translate(254.04 179.90) scale(1 1.05)" font-size="15.3" stroke="#000" stroke-width="0.12">7</text>
<path d="M58.30,232.50 L57.08,232.50 L57.08,223.50 C56.68,223.81 56.25,224.08 55.72,224.37 C55.18,224.66 54.71,224.87 54.29,225.01 L54.29,223.86 C55.04,223.44 55.70,222.99 56.27,222.46 C56.83,221.93 57.23,221.43 57.46,221.00 L58.35,221.00 Z" fill="#000" stroke="#000" stroke-width="0.12"/>
<text transform="translate(61.12 232.50) scale(1 1.05)" font-size="15.3" stroke="#000" stroke-width="0.12">0</text>
<path d="M102.80,265.25 L101.58,265.25 L101.58,256.25 C101.18,256.56 100.75,256.83 100.22,257.12 C99.68,257.41 99.21,257.62 98.79,257.76 L98.79,256.61 C99.54,256.19 100.20,255.74 100.77,255.21 C101.33,254.68 101.73,254.18 101.96,253.75 L102.85,253.75 Z" fill="#000" stroke="#000" stroke-width="0.12"/>
<path d="M111.31,265.25 L110.08,265.25 L110.08,256.25 C109.69,256.56 109.26,256.83 108.72,257.12 C108.19,257.41 107.71,257.62 107.30,257.76 L107.30,256.61 C108.05,256.19 108.71,255.74 109.27,255.21 C109.84,254.68 110.24,254.18 110.47,253.75 L111.35,253.75 Z" fill="#000" stroke="#000" stroke-width="0.12"/>
<path d="M156.15,265.25 L154.93,265.25 L154.93,256.25 C154.53,256.56 154.10,256.83 153.57,257.12 C153.03,257.41 152.56,257.62 152.14,257.76 L152.14,256.61 C152.89,256.19 153.55,255.74 154.12,255.21 C154.68,254.68 155.08,254.18 155.31,253.75 L156.20,253.75 Z" fill="#000" stroke="#000" stroke-width="0.12"/>
<text transform="translate(158.97 265.25) scale(1 1.05)" font-size="15.3" stroke="#000" stroke-width="0.12">2</text>
<path d="M173.15,287.75 L171.93,287.75 L171.93,278.75 C171.53,279.06 171.10,279.33 170.57,279.62 C170.03,279.91 169.56,280.12 169.14,280.26 L169.14,279.11 C169.89,278.69 170.55,278.24 171.12,277.71 C171.68,277.18 172.08,276.68 172.31,276.25 L173.20,276.25 Z" fill="#000" stroke="#000" stroke-width="0.12"/>
<text transform="translate(175.97 287.75) scale(1 1.05)" font-size="15.3" stroke="#000" stroke-width="0.12">3</text>
<path d="M193.25,306.10 L192.03,306.10 L192.03,297.10 C191.63,297.41 191.20,297.68 190.67,297.97 C190.13,298.26 189.66,298.47 189.24,298.61 L189.24,297.46 C189.99,297.04 190.65,296.59 191.22,296.06 C191.78,295.53 192.18,295.03 192.41,294.60 L193.30,294.60 Z" fill="#000" stroke="#000" stroke-width="0.12"/>
<text transform="translate(196.07 306.10) scale(1 1.05)" font-size="15.3" stroke="#000" stroke-width="0.12">4</text>
<path d="M227.35,319.50 L226.13,319.50 L226.13,310.50 C225.73,310.81 225.30,311.08 224.77,311.37 C224.23,311.66 223.76,311.87 223.34,312.01 L223.34,310.86 C224.09,310.44 224.75,309.99 225.32,309.46 C225.88,308.93 226.28,308.43 226.51,308.00 L227.40,308.00 Z" fill="#000" stroke="#000" stroke-width="0.12"/>
<text transform="translate(230.17 319.50) scale(1 1.05)" font-size="15.3" stroke="#000" stroke-width="0.12">5</text>
<path d="M290.60,248.55 L289.38,248.55 L289.38,239.55 C288.98,239.86 288.55,240.13 288.02,240.42 C287.48,240.71 287.01,240.92 286.59,241.06 L286.59,239.91 C287.34,239.49 288.00,239.04 288.57,238.51 C289.13,237.98 289.53,237.48 289.76,237.05 L290.65,237.05 Z" fill="#000" stroke="#000" stroke-width="0.12"/>
<text transform="translate(293.42 248.55) scale(1 1.05)" font-size="15.3" stroke="#000" stroke-width="0.12">6</text>
<path d="M278.05,341.75 L276.83,341.75 L276.83,332.75 C276.43,333.06 276.00,333.33 275.47,333.62 C274.93,333.91 274.46,334.12 274.04,334.26 L274.04,333.11 C274.79,332.69 275.45,332.24 276.02,331.71 C276.58,331.18 276.98,330.68 277.21,330.25 L278.10,330.25 Z" fill="#000" stroke="#000" stroke-width="0.12"/>
<text transform="translate(280.87 341.75) scale(1 1.05)" font-size="15.3" stroke="#000" stroke-width="0.12">7</text>
<text transform="translate(348.54 251.05) scale(1 1.05)" font-size="15.3" stroke="#000" stroke-width="0.12">20</text>
<text transform="translate(404.34 297.05) scale(1 1.05)" font-size="15.3" stroke="#000" stroke-width="0.12">20</text>
<text transform="translate(388.84 208.05) scale(1 1.05)" font-size="15.3" stroke="#000" stroke-width="0.12">26</text>
<text transform="translate(457.24 268.75) scale(1 1.05)" font-size="15.3" stroke="#000" stroke-width="0.12">27</text>
<text transform="translate(472.39 163.00) scale(1 1.05)" font-size="15.3" stroke="#000" stroke-width="0.12">28</text>
<text transform="translate(493.64 310.65) scale(1 1.05)" font-size="15.3" stroke="#000" stroke-width="0.12">24</text>
<path d="M199.10,354.35 L197.88,354.35 L197.88,345.35 C197.48,345.66 197.05,345.93 196.52,346.22 C195.98,346.51 195.51,346.72 195.09,346.86 L195.09,345.71 C195.84,345.29 196.50,344.84 197.07,344.31 C197.63,343.78 198.03,343.28 198.26,342.85 L199.15,342.85 Z" fill="#000" stroke="#000" stroke-width="0.12"/>
<text transform="translate(201.92 354.35) scale(1 1.05)" font-size="15.3" stroke="#000" stroke-width="0.12">9</text>
<path d="M240.35,426.05 L239.13,426.05 L239.13,417.05 C238.73,417.36 238.30,417.63 237.77,417.92 C237.23,418.21 236.76,418.42 236.34,418.56 L236.34,417.41 C237.09,416.99 237.75,416.54 238.32,416.01 C238.88,415.48 239.28,414.98 239.51,414.55 L240.40,414.55 Z" fill="#000" stroke="#000" stroke-width="0.12"/>
<text transform="translate(243.17 426.05) scale(1 1.05)" font-size="15.3" stroke="#000" stroke-width="0.12">8</text>
<text transform="translate(294.69 434.65) scale(1 1.05)" font-size="15.3" stroke="#000" stroke-width="0.12">25</text>
<text transform="translate(333.59 428.05) scale(1 1.05)" font-size="15.3" stroke="#000" stroke-width="0.12">24</text>
<text transform="translate(367.94 444.05) scale(1 1.05)" font-size="15.3" stroke="#000" stroke-width="0.12">23</text>
<text transform="translate(412.94 388.05) scale(1 1.05)" font-size="15.3" stroke="#000" stroke-width="0.12">22</text>
<text transform="translate(549.24 380.20) scale(1 1.05)" font-size="15.3" stroke="#000" stroke-width="0.12">3</text>
<path d="M563.44,380.20 L562.21,380.20 L562.21,371.20 C561.81,371.51 561.39,371.78 560.85,372.07 C560.31,372.36 559.84,372.57 559.43,372.71 L559.43,371.56 C560.18,371.14 560.83,370.69 561.40,370.16 C561.97,369.63 562.36,369.13 562.59,368.70 L563.48,368.70 Z" fill="#000" stroke="#000" stroke-width="0.12"/>
<text transform="translate(521.94 407.75) scale(1 1.05)" font-size="15.3" stroke="#000" stroke-width="0.12">32</text>
<text transform="translate(483.79 422.30) scale(1 1.05)" font-size="15.3" stroke="#000" stroke-width="0.12">36</text>
<text transform="translate(382.24 476.60) scale(1 1.05)" font-size="15.3" stroke="#000" stroke-width="0.12">4</text>
<path d="M396.44,476.60 L395.21,476.60 L395.21,467.60 C394.81,467.91 394.39,468.18 393.85,468.47 C393.31,468.76 392.84,468.97 392.43,469.11 L392.43,467.96 C393.18,467.54 393.83,467.09 394.40,466.56 C394.97,466.03 395.36,465.53 395.59,465.10 L396.48,465.10 Z" fill="#000" stroke="#000" stroke-width="0.12"/>
<text transform="translate(441.24 463.35) scale(1 1.05)" font-size="15.3" stroke="#000" stroke-width="0.12">38</text>
<text transform="translate(572.09 522.70) scale(1 1.05)" font-size="15.3" stroke="#000" stroke-width="0.12">42</text>
<text transform="translate(328.39 523.20) scale(1 1.05)" font-size="15.3" stroke="#000" stroke-width="0.12">37</text>
<text transform="translate(491.14 535.15) scale(1 1.05)" font-size="15.3" stroke="#000" stroke-width="0.12">37</text>
<text transform="translate(539.89 543.90) scale(1 1.05)" font-size="15.3" stroke="#000" stroke-width="0.12">43</text>
<text transform="translate(215.54 565.20) scale(1 1.05)" font-size="15.3" stroke="#000" stroke-width="0.12">36</text>
<text transform="translate(183.04 593.25) scale(1 1.05)" font-size="15.3" stroke="#000" stroke-width="0.12">30</text>
<text transform="translate(384.79 591.50) scale(1 1.05)" font-size="15.3" stroke="#000" stroke-width="0.12">38</text>
<text transform="translate(474.59 594.15) scale(1 1.05)" font-size="15.3" stroke="#000" stroke-width="0.12">40</text>
<text transform="translate(447.94 611.95) scale(1 1.05)" font-size="15.3" stroke="#000" stroke-width="0.12">39</text>
<text transform="translate(156.29 617.75) scale(1 1.05)" font-size="15.3" stroke="#000" stroke-width="0.12">29</text>
<text transform="translate(365.64 626.35) scale(1 1.05)" font-size="15.3" stroke="#000" stroke-width="0.12">35</text>
<path d="M330.40,666.45 L329.18,666.45 L329.18,657.45 C328.78,657.76 328.35,658.03 327.82,658.32 C327.28,658.61 326.81,658.82 326.39,658.96 L326.39,657.81 C327.14,657.39 327.80,656.94 328.37,656.41 C328.93,655.88 329.33,655.38 329.56,654.95 L330.45,654.95 Z" fill="#000" stroke="#000" stroke-width="0.12"/>
<text transform="translate(333.22 666.45) scale(1 1.05)" font-size="15.3" stroke="#000" stroke-width="0.12">5</text>
<text transform="translate(249.29 698.65) scale(1 1.05)" font-size="15.3" stroke="#000" stroke-width="0.12">34</text>
<text transform="translate(228.54 719.60) scale(1 1.05)" font-size="15.3" stroke="#000" stroke-width="0.12">33</text>
<ellipse cx="233.9" cy="313.2" rx="19.3" ry="12.6" fill="none" stroke="#14aa3c" stroke-width="4.5"/>
<text transform="translate(6.40 770.80) scale(1 1.0)" font-size="13.0" stroke="#000" stroke-width="0.12">02-A</text>
<path d="M38.69,770.80 L37.65,770.80 L37.65,763.52 C37.31,763.77 36.95,763.99 36.50,764.22 C36.04,764.46 35.64,764.62 35.29,764.74 L35.29,763.81 C35.92,763.47 36.48,763.10 36.96,762.67 C37.44,762.25 37.78,761.84 37.98,761.49 L38.73,761.49 Z" fill="#000" stroke="#000" stroke-width="0.12"/>
<text transform="translate(41.08 770.80) scale(1 1.0)" font-size="13.0" stroke="#000" stroke-width="0.12">9-0003-0</text>
<path d="M97.95,770.80 L96.91,770.80 L96.91,763.52 C96.57,763.77 96.20,763.99 95.75,764.22 C95.29,764.46 94.89,764.62 94.54,764.74 L94.54,763.81 C95.18,763.47 95.74,763.10 96.22,762.67 C96.70,762.25 97.04,761.84 97.23,761.49 L97.98,761.49 Z" fill="#000" stroke="#000" stroke-width="0.12"/>
<text transform="translate(580.20 771.00) scale(1 1.02)" font-size="12.9" stroke="#000" stroke-width="0.12">B07</text>
</svg>
</body></html>
